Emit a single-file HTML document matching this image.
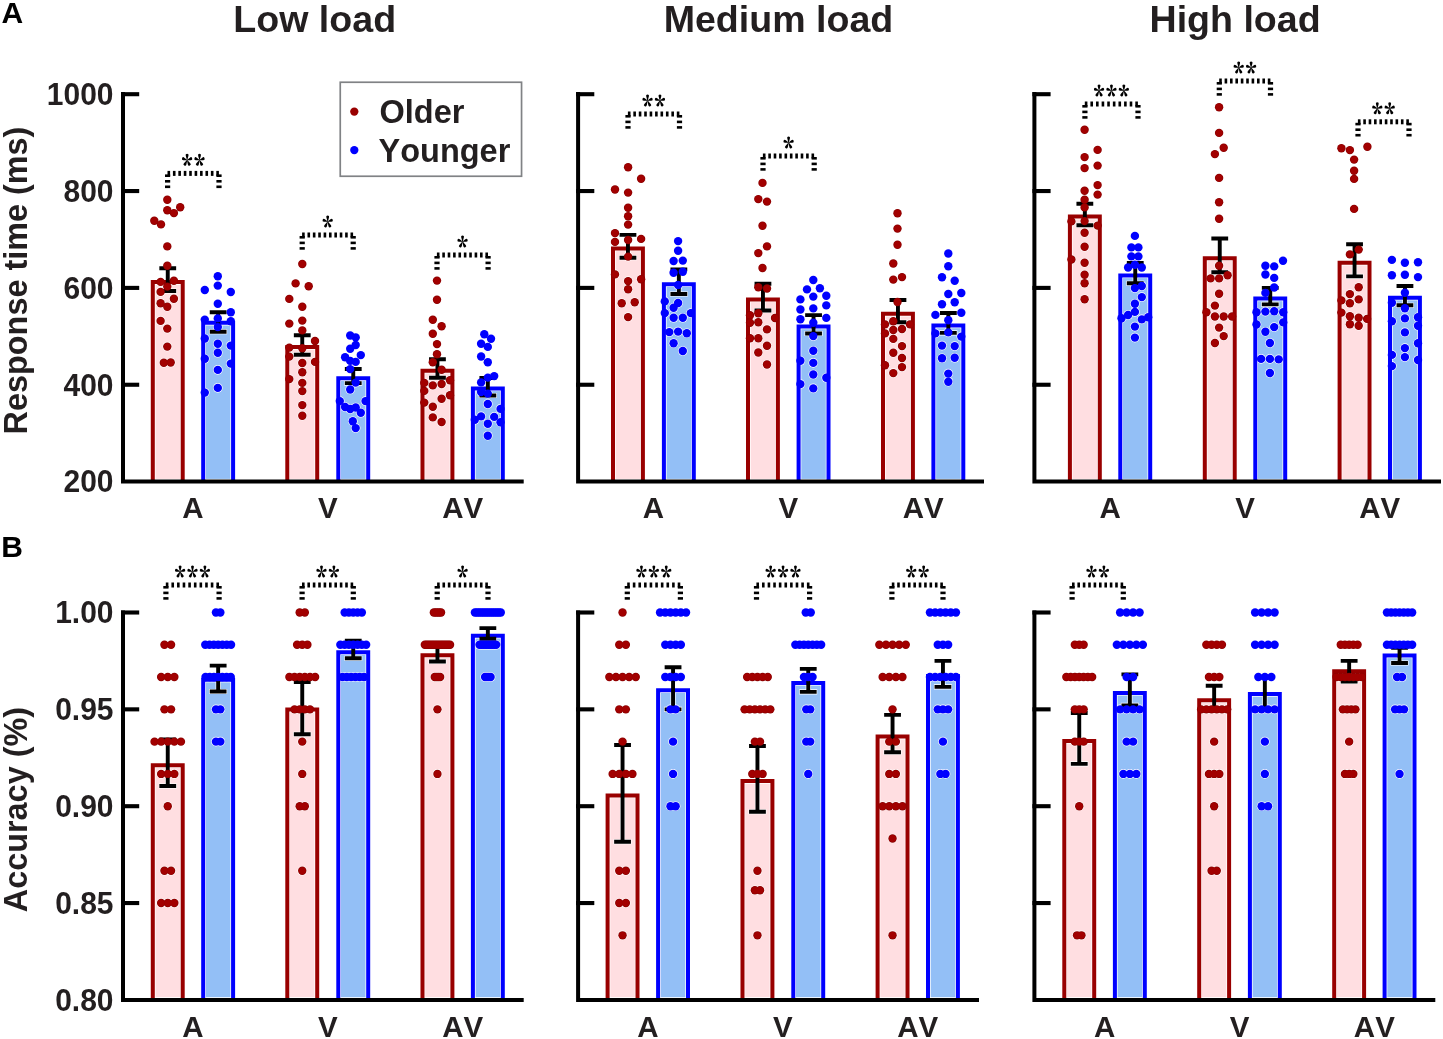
<!DOCTYPE html>
<html><head><meta charset="utf-8"><style>
html,body{margin:0;padding:0;background:#fff;overflow:hidden;}
svg{display:block;will-change:transform;}
text{font-family:"Liberation Sans",sans-serif;font-kerning:none;}
</style></head><body>
<svg width="1443" height="1039" viewBox="0 0 1443 1039">
<rect width="1443" height="1039" fill="#fff"/><rect x="152.80" y="282.10" width="29.90" height="199.50" fill="#FFDEE1" stroke="#fff" stroke-width="5.4"/><rect x="203.20" y="322.80" width="29.90" height="158.80" fill="#93BFF6" stroke="#fff" stroke-width="5.4"/><rect x="287.30" y="347.10" width="29.90" height="134.50" fill="#FFDEE1" stroke="#fff" stroke-width="5.4"/><rect x="338.30" y="378.30" width="29.90" height="103.30" fill="#93BFF6" stroke="#fff" stroke-width="5.4"/><rect x="422.50" y="370.70" width="29.90" height="110.90" fill="#FFDEE1" stroke="#fff" stroke-width="5.4"/><rect x="472.90" y="388.40" width="29.90" height="93.20" fill="#93BFF6" stroke="#fff" stroke-width="5.4"/><g fill="#fff"><circle cx="167.30" cy="199.80" r="4.80"/><circle cx="180.20" cy="207.20" r="4.80"/><circle cx="167.30" cy="210.30" r="4.80"/><circle cx="173.90" cy="213.10" r="4.80"/><circle cx="154.30" cy="220.70" r="4.80"/><circle cx="161.00" cy="224.40" r="4.80"/><circle cx="167.30" cy="246.40" r="4.80"/><circle cx="167.30" cy="265.70" r="4.80"/><circle cx="173.90" cy="280.80" r="4.80"/><circle cx="160.60" cy="281.90" r="4.80"/><circle cx="167.30" cy="286.60" r="4.80"/><circle cx="160.60" cy="291.90" r="4.80"/><circle cx="173.90" cy="298.70" r="4.80"/><circle cx="160.60" cy="303.20" r="4.80"/><circle cx="167.30" cy="306.70" r="4.80"/><circle cx="160.60" cy="320.90" r="4.80"/><circle cx="167.30" cy="328.60" r="4.80"/><circle cx="167.30" cy="346.60" r="4.80"/><circle cx="163.80" cy="362.80" r="4.80"/><circle cx="170.70" cy="362.50" r="4.80"/><circle cx="217.80" cy="276.30" r="4.80"/><circle cx="217.80" cy="285.60" r="4.80"/><circle cx="204.80" cy="290.00" r="4.80"/><circle cx="230.80" cy="292.00" r="4.80"/><circle cx="217.80" cy="303.80" r="4.80"/><circle cx="230.80" cy="312.20" r="4.80"/><circle cx="217.80" cy="318.40" r="4.80"/><circle cx="204.80" cy="319.60" r="4.80"/><circle cx="230.80" cy="321.20" r="4.80"/><circle cx="217.80" cy="327.10" r="4.80"/><circle cx="204.80" cy="338.50" r="4.80"/><circle cx="217.80" cy="343.80" r="4.80"/><circle cx="230.80" cy="345.60" r="4.80"/><circle cx="217.80" cy="352.80" r="4.80"/><circle cx="204.80" cy="358.80" r="4.80"/><circle cx="230.80" cy="363.60" r="4.80"/><circle cx="217.80" cy="369.90" r="4.80"/><circle cx="217.80" cy="387.90" r="4.80"/><circle cx="204.80" cy="392.60" r="4.80"/><circle cx="302.30" cy="264.00" r="4.80"/><circle cx="295.60" cy="283.40" r="4.80"/><circle cx="308.70" cy="286.20" r="4.80"/><circle cx="289.30" cy="298.90" r="4.80"/><circle cx="302.30" cy="306.70" r="4.80"/><circle cx="302.30" cy="320.60" r="4.80"/><circle cx="289.30" cy="323.60" r="4.80"/><circle cx="302.30" cy="330.40" r="4.80"/><circle cx="315.00" cy="341.00" r="4.80"/><circle cx="289.30" cy="347.60" r="4.80"/><circle cx="302.30" cy="348.20" r="4.80"/><circle cx="289.30" cy="356.60" r="4.80"/><circle cx="315.00" cy="361.90" r="4.80"/><circle cx="302.30" cy="363.00" r="4.80"/><circle cx="302.30" cy="372.30" r="4.80"/><circle cx="289.30" cy="379.10" r="4.80"/><circle cx="302.30" cy="382.90" r="4.80"/><circle cx="302.30" cy="391.10" r="4.80"/><circle cx="302.30" cy="405.10" r="4.80"/><circle cx="302.30" cy="415.70" r="4.80"/><circle cx="350.20" cy="335.50" r="4.80"/><circle cx="355.70" cy="337.40" r="4.80"/><circle cx="355.70" cy="345.00" r="4.80"/><circle cx="350.20" cy="348.70" r="4.80"/><circle cx="360.80" cy="355.10" r="4.80"/><circle cx="345.10" cy="357.20" r="4.80"/><circle cx="350.20" cy="360.90" r="4.80"/><circle cx="355.70" cy="361.90" r="4.80"/><circle cx="350.20" cy="369.10" r="4.80"/><circle cx="355.70" cy="382.60" r="4.80"/><circle cx="350.20" cy="389.50" r="4.80"/><circle cx="339.80" cy="401.10" r="4.80"/><circle cx="345.10" cy="407.00" r="4.80"/><circle cx="350.20" cy="409.00" r="4.80"/><circle cx="355.70" cy="407.50" r="4.80"/><circle cx="365.50" cy="401.10" r="4.80"/><circle cx="360.80" cy="412.80" r="4.80"/><circle cx="352.80" cy="421.20" r="4.80"/><circle cx="355.70" cy="428.10" r="4.80"/><circle cx="437.00" cy="280.60" r="4.80"/><circle cx="437.00" cy="299.80" r="4.80"/><circle cx="432.80" cy="319.70" r="4.80"/><circle cx="441.60" cy="326.30" r="4.80"/><circle cx="432.80" cy="333.70" r="4.80"/><circle cx="437.00" cy="344.10" r="4.80"/><circle cx="437.00" cy="354.30" r="4.80"/><circle cx="432.80" cy="362.30" r="4.80"/><circle cx="441.60" cy="369.70" r="4.80"/><circle cx="450.00" cy="380.30" r="4.80"/><circle cx="424.30" cy="382.90" r="4.80"/><circle cx="441.60" cy="384.00" r="4.80"/><circle cx="432.80" cy="385.40" r="4.80"/><circle cx="424.30" cy="390.90" r="4.80"/><circle cx="450.00" cy="395.20" r="4.80"/><circle cx="441.60" cy="398.70" r="4.80"/><circle cx="424.30" cy="402.60" r="4.80"/><circle cx="432.80" cy="406.80" r="4.80"/><circle cx="432.80" cy="417.40" r="4.80"/><circle cx="441.60" cy="422.00" r="4.80"/><circle cx="484.30" cy="334.20" r="4.80"/><circle cx="491.00" cy="338.80" r="4.80"/><circle cx="481.10" cy="343.80" r="4.80"/><circle cx="487.80" cy="346.90" r="4.80"/><circle cx="481.10" cy="356.50" r="4.80"/><circle cx="487.80" cy="362.30" r="4.80"/><circle cx="494.20" cy="376.10" r="4.80"/><circle cx="487.80" cy="377.60" r="4.80"/><circle cx="481.10" cy="382.40" r="4.80"/><circle cx="481.10" cy="392.00" r="4.80"/><circle cx="487.80" cy="393.60" r="4.80"/><circle cx="487.80" cy="404.00" r="4.80"/><circle cx="500.50" cy="408.90" r="4.80"/><circle cx="481.10" cy="416.40" r="4.80"/><circle cx="494.20" cy="416.90" r="4.80"/><circle cx="474.80" cy="419.80" r="4.80"/><circle cx="500.50" cy="422.20" r="4.80"/><circle cx="487.80" cy="423.80" r="4.80"/><circle cx="487.80" cy="435.70" r="4.80"/></g><path d="M158.75,268.20 H176.75 M167.75,268.20 V291.00 M158.75,291.00 H176.75M209.15,312.20 H227.15 M218.15,312.20 V331.80 M209.15,331.80 H227.15M293.25,335.20 H311.25 M302.25,335.20 V354.80 M293.25,354.80 H311.25M344.25,369.00 H362.25 M353.25,369.00 V383.10 M344.25,383.10 H362.25M428.45,359.20 H446.45 M437.45,359.20 V377.80 M428.45,377.80 H446.45M478.85,378.00 H496.85 M487.85,378.00 V395.50 M478.85,395.50 H496.85" stroke="#fff" stroke-width="5.1" fill="none"/><path d="M152.80,481.60 V282.10 H182.70 V481.60" fill="none" stroke="#990000" stroke-width="4"/><path d="M203.20,481.60 V322.80 H233.10 V481.60" fill="none" stroke="#0000FF" stroke-width="4"/><path d="M287.30,481.60 V347.10 H317.20 V481.60" fill="none" stroke="#990000" stroke-width="4"/><path d="M338.30,481.60 V378.30 H368.20 V481.60" fill="none" stroke="#0000FF" stroke-width="4"/><path d="M422.50,481.60 V370.70 H452.40 V481.60" fill="none" stroke="#990000" stroke-width="4"/><path d="M472.90,481.60 V388.40 H502.80 V481.60" fill="none" stroke="#0000FF" stroke-width="4"/><path d="M123.00,92.10 V481.60 H523.70" fill="none" stroke="#000" stroke-width="4"/><path d="M121.00,94.20 H139.20" stroke="#000" stroke-width="4.1"/><path d="M121.00,191.05 H139.20" stroke="#000" stroke-width="4.1"/><path d="M121.00,287.90 H139.20" stroke="#000" stroke-width="4.1"/><path d="M121.00,384.75 H139.20" stroke="#000" stroke-width="4.1"/><path d="M159.35,268.20 H176.15 M167.75,268.20 V291.00 M159.35,291.00 H176.15M209.75,312.20 H226.55 M218.15,312.20 V331.80 M209.75,331.80 H226.55M293.85,335.20 H310.65 M302.25,335.20 V354.80 M293.85,354.80 H310.65M344.85,369.00 H361.65 M353.25,369.00 V383.10 M344.85,383.10 H361.65M429.05,359.20 H445.85 M437.45,359.20 V377.80 M429.05,377.80 H445.85M479.45,378.00 H496.25 M487.85,378.00 V395.50 M479.45,395.50 H496.25" stroke="#000" stroke-width="3.9" fill="none"/><g fill="#8C0000"><circle cx="167.30" cy="199.80" r="4.20"/><circle cx="180.20" cy="207.20" r="4.20"/><circle cx="167.30" cy="210.30" r="4.20"/><circle cx="173.90" cy="213.10" r="4.20"/><circle cx="154.30" cy="220.70" r="4.20"/><circle cx="161.00" cy="224.40" r="4.20"/><circle cx="167.30" cy="246.40" r="4.20"/><circle cx="167.30" cy="265.70" r="4.20"/><circle cx="173.90" cy="280.80" r="4.20"/><circle cx="160.60" cy="281.90" r="4.20"/><circle cx="167.30" cy="286.60" r="4.20"/><circle cx="160.60" cy="291.90" r="4.20"/><circle cx="173.90" cy="298.70" r="4.20"/><circle cx="160.60" cy="303.20" r="4.20"/><circle cx="167.30" cy="306.70" r="4.20"/><circle cx="160.60" cy="320.90" r="4.20"/><circle cx="167.30" cy="328.60" r="4.20"/><circle cx="167.30" cy="346.60" r="4.20"/><circle cx="163.80" cy="362.80" r="4.20"/><circle cx="170.70" cy="362.50" r="4.20"/></g><g fill="#A20000"><circle cx="167.30" cy="199.80" r="3.45"/><circle cx="180.20" cy="207.20" r="3.45"/><circle cx="167.30" cy="210.30" r="3.45"/><circle cx="173.90" cy="213.10" r="3.45"/><circle cx="154.30" cy="220.70" r="3.45"/><circle cx="161.00" cy="224.40" r="3.45"/><circle cx="167.30" cy="246.40" r="3.45"/><circle cx="167.30" cy="265.70" r="3.45"/><circle cx="173.90" cy="280.80" r="3.45"/><circle cx="160.60" cy="281.90" r="3.45"/><circle cx="167.30" cy="286.60" r="3.45"/><circle cx="160.60" cy="291.90" r="3.45"/><circle cx="173.90" cy="298.70" r="3.45"/><circle cx="160.60" cy="303.20" r="3.45"/><circle cx="167.30" cy="306.70" r="3.45"/><circle cx="160.60" cy="320.90" r="3.45"/><circle cx="167.30" cy="328.60" r="3.45"/><circle cx="167.30" cy="346.60" r="3.45"/><circle cx="163.80" cy="362.80" r="3.45"/><circle cx="170.70" cy="362.50" r="3.45"/></g><g fill="#0000FF"><circle cx="217.80" cy="276.30" r="4.2"/><circle cx="217.80" cy="285.60" r="4.2"/><circle cx="204.80" cy="290.00" r="4.2"/><circle cx="230.80" cy="292.00" r="4.2"/><circle cx="217.80" cy="303.80" r="4.2"/><circle cx="230.80" cy="312.20" r="4.2"/><circle cx="217.80" cy="318.40" r="4.2"/><circle cx="204.80" cy="319.60" r="4.2"/><circle cx="230.80" cy="321.20" r="4.2"/><circle cx="217.80" cy="327.10" r="4.2"/><circle cx="204.80" cy="338.50" r="4.2"/><circle cx="217.80" cy="343.80" r="4.2"/><circle cx="230.80" cy="345.60" r="4.2"/><circle cx="217.80" cy="352.80" r="4.2"/><circle cx="204.80" cy="358.80" r="4.2"/><circle cx="230.80" cy="363.60" r="4.2"/><circle cx="217.80" cy="369.90" r="4.2"/><circle cx="217.80" cy="387.90" r="4.2"/><circle cx="204.80" cy="392.60" r="4.2"/></g><g fill="#8C0000"><circle cx="302.30" cy="264.00" r="4.20"/><circle cx="295.60" cy="283.40" r="4.20"/><circle cx="308.70" cy="286.20" r="4.20"/><circle cx="289.30" cy="298.90" r="4.20"/><circle cx="302.30" cy="306.70" r="4.20"/><circle cx="302.30" cy="320.60" r="4.20"/><circle cx="289.30" cy="323.60" r="4.20"/><circle cx="302.30" cy="330.40" r="4.20"/><circle cx="315.00" cy="341.00" r="4.20"/><circle cx="289.30" cy="347.60" r="4.20"/><circle cx="302.30" cy="348.20" r="4.20"/><circle cx="289.30" cy="356.60" r="4.20"/><circle cx="315.00" cy="361.90" r="4.20"/><circle cx="302.30" cy="363.00" r="4.20"/><circle cx="302.30" cy="372.30" r="4.20"/><circle cx="289.30" cy="379.10" r="4.20"/><circle cx="302.30" cy="382.90" r="4.20"/><circle cx="302.30" cy="391.10" r="4.20"/><circle cx="302.30" cy="405.10" r="4.20"/><circle cx="302.30" cy="415.70" r="4.20"/></g><g fill="#A20000"><circle cx="302.30" cy="264.00" r="3.45"/><circle cx="295.60" cy="283.40" r="3.45"/><circle cx="308.70" cy="286.20" r="3.45"/><circle cx="289.30" cy="298.90" r="3.45"/><circle cx="302.30" cy="306.70" r="3.45"/><circle cx="302.30" cy="320.60" r="3.45"/><circle cx="289.30" cy="323.60" r="3.45"/><circle cx="302.30" cy="330.40" r="3.45"/><circle cx="315.00" cy="341.00" r="3.45"/><circle cx="289.30" cy="347.60" r="3.45"/><circle cx="302.30" cy="348.20" r="3.45"/><circle cx="289.30" cy="356.60" r="3.45"/><circle cx="315.00" cy="361.90" r="3.45"/><circle cx="302.30" cy="363.00" r="3.45"/><circle cx="302.30" cy="372.30" r="3.45"/><circle cx="289.30" cy="379.10" r="3.45"/><circle cx="302.30" cy="382.90" r="3.45"/><circle cx="302.30" cy="391.10" r="3.45"/><circle cx="302.30" cy="405.10" r="3.45"/><circle cx="302.30" cy="415.70" r="3.45"/></g><g fill="#0000FF"><circle cx="350.20" cy="335.50" r="4.2"/><circle cx="355.70" cy="337.40" r="4.2"/><circle cx="355.70" cy="345.00" r="4.2"/><circle cx="350.20" cy="348.70" r="4.2"/><circle cx="360.80" cy="355.10" r="4.2"/><circle cx="345.10" cy="357.20" r="4.2"/><circle cx="350.20" cy="360.90" r="4.2"/><circle cx="355.70" cy="361.90" r="4.2"/><circle cx="350.20" cy="369.10" r="4.2"/><circle cx="355.70" cy="382.60" r="4.2"/><circle cx="350.20" cy="389.50" r="4.2"/><circle cx="339.80" cy="401.10" r="4.2"/><circle cx="345.10" cy="407.00" r="4.2"/><circle cx="350.20" cy="409.00" r="4.2"/><circle cx="355.70" cy="407.50" r="4.2"/><circle cx="365.50" cy="401.10" r="4.2"/><circle cx="360.80" cy="412.80" r="4.2"/><circle cx="352.80" cy="421.20" r="4.2"/><circle cx="355.70" cy="428.10" r="4.2"/></g><g fill="#8C0000"><circle cx="437.00" cy="280.60" r="4.20"/><circle cx="437.00" cy="299.80" r="4.20"/><circle cx="432.80" cy="319.70" r="4.20"/><circle cx="441.60" cy="326.30" r="4.20"/><circle cx="432.80" cy="333.70" r="4.20"/><circle cx="437.00" cy="344.10" r="4.20"/><circle cx="437.00" cy="354.30" r="4.20"/><circle cx="432.80" cy="362.30" r="4.20"/><circle cx="441.60" cy="369.70" r="4.20"/><circle cx="450.00" cy="380.30" r="4.20"/><circle cx="424.30" cy="382.90" r="4.20"/><circle cx="441.60" cy="384.00" r="4.20"/><circle cx="432.80" cy="385.40" r="4.20"/><circle cx="424.30" cy="390.90" r="4.20"/><circle cx="450.00" cy="395.20" r="4.20"/><circle cx="441.60" cy="398.70" r="4.20"/><circle cx="424.30" cy="402.60" r="4.20"/><circle cx="432.80" cy="406.80" r="4.20"/><circle cx="432.80" cy="417.40" r="4.20"/><circle cx="441.60" cy="422.00" r="4.20"/></g><g fill="#A20000"><circle cx="437.00" cy="280.60" r="3.45"/><circle cx="437.00" cy="299.80" r="3.45"/><circle cx="432.80" cy="319.70" r="3.45"/><circle cx="441.60" cy="326.30" r="3.45"/><circle cx="432.80" cy="333.70" r="3.45"/><circle cx="437.00" cy="344.10" r="3.45"/><circle cx="437.00" cy="354.30" r="3.45"/><circle cx="432.80" cy="362.30" r="3.45"/><circle cx="441.60" cy="369.70" r="3.45"/><circle cx="450.00" cy="380.30" r="3.45"/><circle cx="424.30" cy="382.90" r="3.45"/><circle cx="441.60" cy="384.00" r="3.45"/><circle cx="432.80" cy="385.40" r="3.45"/><circle cx="424.30" cy="390.90" r="3.45"/><circle cx="450.00" cy="395.20" r="3.45"/><circle cx="441.60" cy="398.70" r="3.45"/><circle cx="424.30" cy="402.60" r="3.45"/><circle cx="432.80" cy="406.80" r="3.45"/><circle cx="432.80" cy="417.40" r="3.45"/><circle cx="441.60" cy="422.00" r="3.45"/></g><g fill="#0000FF"><circle cx="484.30" cy="334.20" r="4.2"/><circle cx="491.00" cy="338.80" r="4.2"/><circle cx="481.10" cy="343.80" r="4.2"/><circle cx="487.80" cy="346.90" r="4.2"/><circle cx="481.10" cy="356.50" r="4.2"/><circle cx="487.80" cy="362.30" r="4.2"/><circle cx="494.20" cy="376.10" r="4.2"/><circle cx="487.80" cy="377.60" r="4.2"/><circle cx="481.10" cy="382.40" r="4.2"/><circle cx="481.10" cy="392.00" r="4.2"/><circle cx="487.80" cy="393.60" r="4.2"/><circle cx="487.80" cy="404.00" r="4.2"/><circle cx="500.50" cy="408.90" r="4.2"/><circle cx="481.10" cy="416.40" r="4.2"/><circle cx="494.20" cy="416.90" r="4.2"/><circle cx="474.80" cy="419.80" r="4.2"/><circle cx="500.50" cy="422.20" r="4.2"/><circle cx="487.80" cy="423.80" r="4.2"/><circle cx="487.80" cy="435.70" r="4.2"/></g><rect x="613.00" y="248.40" width="29.90" height="233.20" fill="#FFDEE1" stroke="#fff" stroke-width="5.4"/><rect x="663.90" y="284.20" width="29.90" height="197.40" fill="#93BFF6" stroke="#fff" stroke-width="5.4"/><rect x="748.00" y="299.40" width="29.90" height="182.20" fill="#FFDEE1" stroke="#fff" stroke-width="5.4"/><rect x="798.60" y="326.50" width="29.90" height="155.10" fill="#93BFF6" stroke="#fff" stroke-width="5.4"/><rect x="883.00" y="313.80" width="29.90" height="167.80" fill="#FFDEE1" stroke="#fff" stroke-width="5.4"/><rect x="933.40" y="325.50" width="29.90" height="156.10" fill="#93BFF6" stroke="#fff" stroke-width="5.4"/><g fill="#fff"><circle cx="628.10" cy="167.20" r="4.80"/><circle cx="641.10" cy="178.80" r="4.80"/><circle cx="615.00" cy="189.50" r="4.80"/><circle cx="628.10" cy="192.60" r="4.80"/><circle cx="628.10" cy="207.70" r="4.80"/><circle cx="628.10" cy="216.20" r="4.80"/><circle cx="628.10" cy="224.60" r="4.80"/><circle cx="615.00" cy="233.10" r="4.80"/><circle cx="615.00" cy="241.90" r="4.80"/><circle cx="628.10" cy="240.00" r="4.80"/><circle cx="641.10" cy="238.90" r="4.80"/><circle cx="628.10" cy="256.60" r="4.80"/><circle cx="615.00" cy="274.40" r="4.80"/><circle cx="641.10" cy="279.20" r="4.80"/><circle cx="628.10" cy="281.10" r="4.80"/><circle cx="628.10" cy="289.20" r="4.80"/><circle cx="621.70" cy="303.30" r="4.80"/><circle cx="634.70" cy="302.30" r="4.80"/><circle cx="628.10" cy="317.10" r="4.80"/><circle cx="678.10" cy="241.10" r="4.80"/><circle cx="678.10" cy="250.80" r="4.80"/><circle cx="673.60" cy="261.00" r="4.80"/><circle cx="682.80" cy="260.60" r="4.80"/><circle cx="673.60" cy="272.80" r="4.80"/><circle cx="682.80" cy="271.80" r="4.80"/><circle cx="678.10" cy="285.00" r="4.80"/><circle cx="664.80" cy="301.40" r="4.80"/><circle cx="678.10" cy="303.00" r="4.80"/><circle cx="673.60" cy="307.80" r="4.80"/><circle cx="664.80" cy="313.10" r="4.80"/><circle cx="690.80" cy="313.10" r="4.80"/><circle cx="673.60" cy="317.80" r="4.80"/><circle cx="682.80" cy="317.80" r="4.80"/><circle cx="669.30" cy="332.10" r="4.80"/><circle cx="678.10" cy="331.60" r="4.80"/><circle cx="686.80" cy="333.20" r="4.80"/><circle cx="673.60" cy="343.20" r="4.80"/><circle cx="682.80" cy="351.00" r="4.80"/><circle cx="762.50" cy="182.90" r="4.80"/><circle cx="758.30" cy="199.10" r="4.80"/><circle cx="767.00" cy="201.60" r="4.80"/><circle cx="762.50" cy="225.80" r="4.80"/><circle cx="767.00" cy="246.40" r="4.80"/><circle cx="758.30" cy="253.10" r="4.80"/><circle cx="762.50" cy="268.00" r="4.80"/><circle cx="758.30" cy="287.20" r="4.80"/><circle cx="767.00" cy="288.50" r="4.80"/><circle cx="758.30" cy="313.20" r="4.80"/><circle cx="750.00" cy="315.30" r="4.80"/><circle cx="775.00" cy="318.00" r="4.80"/><circle cx="758.30" cy="322.20" r="4.80"/><circle cx="750.00" cy="322.70" r="4.80"/><circle cx="767.00" cy="329.40" r="4.80"/><circle cx="750.00" cy="338.30" r="4.80"/><circle cx="758.30" cy="338.30" r="4.80"/><circle cx="767.00" cy="345.70" r="4.80"/><circle cx="758.30" cy="352.50" r="4.80"/><circle cx="767.00" cy="364.50" r="4.80"/><circle cx="813.30" cy="280.00" r="4.80"/><circle cx="807.00" cy="289.40" r="4.80"/><circle cx="819.90" cy="288.30" r="4.80"/><circle cx="826.30" cy="295.70" r="4.80"/><circle cx="813.30" cy="296.60" r="4.80"/><circle cx="800.40" cy="299.40" r="4.80"/><circle cx="826.30" cy="305.40" r="4.80"/><circle cx="813.30" cy="308.40" r="4.80"/><circle cx="800.40" cy="309.50" r="4.80"/><circle cx="826.30" cy="317.90" r="4.80"/><circle cx="800.40" cy="319.20" r="4.80"/><circle cx="813.30" cy="322.70" r="4.80"/><circle cx="813.30" cy="336.10" r="4.80"/><circle cx="813.30" cy="350.80" r="4.80"/><circle cx="800.40" cy="360.80" r="4.80"/><circle cx="813.30" cy="362.90" r="4.80"/><circle cx="813.30" cy="374.50" r="4.80"/><circle cx="826.30" cy="377.80" r="4.80"/><circle cx="800.40" cy="384.10" r="4.80"/><circle cx="813.30" cy="388.40" r="4.80"/><circle cx="897.50" cy="213.20" r="4.80"/><circle cx="897.50" cy="228.60" r="4.80"/><circle cx="897.50" cy="244.70" r="4.80"/><circle cx="893.30" cy="263.50" r="4.80"/><circle cx="902.00" cy="277.10" r="4.80"/><circle cx="893.30" cy="279.60" r="4.80"/><circle cx="897.50" cy="302.00" r="4.80"/><circle cx="893.30" cy="321.20" r="4.80"/><circle cx="885.00" cy="324.40" r="4.80"/><circle cx="910.00" cy="324.40" r="4.80"/><circle cx="902.00" cy="329.00" r="4.80"/><circle cx="893.30" cy="330.00" r="4.80"/><circle cx="885.00" cy="333.40" r="4.80"/><circle cx="893.30" cy="338.90" r="4.80"/><circle cx="902.00" cy="346.10" r="4.80"/><circle cx="893.30" cy="352.70" r="4.80"/><circle cx="902.00" cy="358.00" r="4.80"/><circle cx="885.00" cy="365.20" r="4.80"/><circle cx="902.00" cy="367.10" r="4.80"/><circle cx="893.30" cy="373.10" r="4.80"/><circle cx="948.30" cy="253.50" r="4.80"/><circle cx="948.30" cy="266.20" r="4.80"/><circle cx="942.00" cy="277.30" r="4.80"/><circle cx="954.70" cy="280.70" r="4.80"/><circle cx="961.30" cy="293.00" r="4.80"/><circle cx="948.30" cy="294.00" r="4.80"/><circle cx="954.70" cy="302.20" r="4.80"/><circle cx="942.00" cy="304.30" r="4.80"/><circle cx="961.30" cy="312.80" r="4.80"/><circle cx="935.40" cy="314.90" r="4.80"/><circle cx="948.30" cy="320.20" r="4.80"/><circle cx="948.30" cy="332.40" r="4.80"/><circle cx="935.40" cy="333.40" r="4.80"/><circle cx="961.30" cy="336.60" r="4.80"/><circle cx="942.00" cy="345.60" r="4.80"/><circle cx="954.70" cy="346.10" r="4.80"/><circle cx="954.70" cy="357.80" r="4.80"/><circle cx="942.00" cy="358.30" r="4.80"/><circle cx="948.30" cy="373.60" r="4.80"/><circle cx="948.30" cy="381.70" r="4.80"/></g><path d="M618.95,234.90 H636.95 M627.95,234.90 V257.80 M618.95,257.80 H636.95M669.85,269.40 H687.85 M678.85,269.40 V294.00 M669.85,294.00 H687.85M753.95,283.80 H771.95 M762.95,283.80 V310.50 M753.95,310.50 H771.95M804.55,315.10 H822.55 M813.55,315.10 V333.50 M804.55,333.50 H822.55M888.95,300.00 H906.95 M897.95,300.00 V322.30 M888.95,322.30 H906.95M939.35,313.00 H957.35 M948.35,313.00 V332.90 M939.35,332.90 H957.35" stroke="#fff" stroke-width="5.1" fill="none"/><path d="M613.00,481.60 V248.40 H642.90 V481.60" fill="none" stroke="#990000" stroke-width="4"/><path d="M663.90,481.60 V284.20 H693.80 V481.60" fill="none" stroke="#0000FF" stroke-width="4"/><path d="M748.00,481.60 V299.40 H777.90 V481.60" fill="none" stroke="#990000" stroke-width="4"/><path d="M798.60,481.60 V326.50 H828.50 V481.60" fill="none" stroke="#0000FF" stroke-width="4"/><path d="M883.00,481.60 V313.80 H912.90 V481.60" fill="none" stroke="#990000" stroke-width="4"/><path d="M933.40,481.60 V325.50 H963.30 V481.60" fill="none" stroke="#0000FF" stroke-width="4"/><path d="M578.10,92.10 V481.60 H984.00" fill="none" stroke="#000" stroke-width="4"/><path d="M576.10,94.20 H594.30" stroke="#000" stroke-width="4.1"/><path d="M576.10,191.05 H594.30" stroke="#000" stroke-width="4.1"/><path d="M576.10,287.90 H594.30" stroke="#000" stroke-width="4.1"/><path d="M576.10,384.75 H594.30" stroke="#000" stroke-width="4.1"/><path d="M619.55,234.90 H636.35 M627.95,234.90 V257.80 M619.55,257.80 H636.35M670.45,269.40 H687.25 M678.85,269.40 V294.00 M670.45,294.00 H687.25M754.55,283.80 H771.35 M762.95,283.80 V310.50 M754.55,310.50 H771.35M805.15,315.10 H821.95 M813.55,315.10 V333.50 M805.15,333.50 H821.95M889.55,300.00 H906.35 M897.95,300.00 V322.30 M889.55,322.30 H906.35M939.95,313.00 H956.75 M948.35,313.00 V332.90 M939.95,332.90 H956.75" stroke="#000" stroke-width="3.9" fill="none"/><g fill="#8C0000"><circle cx="628.10" cy="167.20" r="4.20"/><circle cx="641.10" cy="178.80" r="4.20"/><circle cx="615.00" cy="189.50" r="4.20"/><circle cx="628.10" cy="192.60" r="4.20"/><circle cx="628.10" cy="207.70" r="4.20"/><circle cx="628.10" cy="216.20" r="4.20"/><circle cx="628.10" cy="224.60" r="4.20"/><circle cx="615.00" cy="233.10" r="4.20"/><circle cx="615.00" cy="241.90" r="4.20"/><circle cx="628.10" cy="240.00" r="4.20"/><circle cx="641.10" cy="238.90" r="4.20"/><circle cx="628.10" cy="256.60" r="4.20"/><circle cx="615.00" cy="274.40" r="4.20"/><circle cx="641.10" cy="279.20" r="4.20"/><circle cx="628.10" cy="281.10" r="4.20"/><circle cx="628.10" cy="289.20" r="4.20"/><circle cx="621.70" cy="303.30" r="4.20"/><circle cx="634.70" cy="302.30" r="4.20"/><circle cx="628.10" cy="317.10" r="4.20"/></g><g fill="#A20000"><circle cx="628.10" cy="167.20" r="3.45"/><circle cx="641.10" cy="178.80" r="3.45"/><circle cx="615.00" cy="189.50" r="3.45"/><circle cx="628.10" cy="192.60" r="3.45"/><circle cx="628.10" cy="207.70" r="3.45"/><circle cx="628.10" cy="216.20" r="3.45"/><circle cx="628.10" cy="224.60" r="3.45"/><circle cx="615.00" cy="233.10" r="3.45"/><circle cx="615.00" cy="241.90" r="3.45"/><circle cx="628.10" cy="240.00" r="3.45"/><circle cx="641.10" cy="238.90" r="3.45"/><circle cx="628.10" cy="256.60" r="3.45"/><circle cx="615.00" cy="274.40" r="3.45"/><circle cx="641.10" cy="279.20" r="3.45"/><circle cx="628.10" cy="281.10" r="3.45"/><circle cx="628.10" cy="289.20" r="3.45"/><circle cx="621.70" cy="303.30" r="3.45"/><circle cx="634.70" cy="302.30" r="3.45"/><circle cx="628.10" cy="317.10" r="3.45"/></g><g fill="#0000FF"><circle cx="678.10" cy="241.10" r="4.2"/><circle cx="678.10" cy="250.80" r="4.2"/><circle cx="673.60" cy="261.00" r="4.2"/><circle cx="682.80" cy="260.60" r="4.2"/><circle cx="673.60" cy="272.80" r="4.2"/><circle cx="682.80" cy="271.80" r="4.2"/><circle cx="678.10" cy="285.00" r="4.2"/><circle cx="664.80" cy="301.40" r="4.2"/><circle cx="678.10" cy="303.00" r="4.2"/><circle cx="673.60" cy="307.80" r="4.2"/><circle cx="664.80" cy="313.10" r="4.2"/><circle cx="690.80" cy="313.10" r="4.2"/><circle cx="673.60" cy="317.80" r="4.2"/><circle cx="682.80" cy="317.80" r="4.2"/><circle cx="669.30" cy="332.10" r="4.2"/><circle cx="678.10" cy="331.60" r="4.2"/><circle cx="686.80" cy="333.20" r="4.2"/><circle cx="673.60" cy="343.20" r="4.2"/><circle cx="682.80" cy="351.00" r="4.2"/></g><g fill="#8C0000"><circle cx="762.50" cy="182.90" r="4.20"/><circle cx="758.30" cy="199.10" r="4.20"/><circle cx="767.00" cy="201.60" r="4.20"/><circle cx="762.50" cy="225.80" r="4.20"/><circle cx="767.00" cy="246.40" r="4.20"/><circle cx="758.30" cy="253.10" r="4.20"/><circle cx="762.50" cy="268.00" r="4.20"/><circle cx="758.30" cy="287.20" r="4.20"/><circle cx="767.00" cy="288.50" r="4.20"/><circle cx="758.30" cy="313.20" r="4.20"/><circle cx="750.00" cy="315.30" r="4.20"/><circle cx="775.00" cy="318.00" r="4.20"/><circle cx="758.30" cy="322.20" r="4.20"/><circle cx="750.00" cy="322.70" r="4.20"/><circle cx="767.00" cy="329.40" r="4.20"/><circle cx="750.00" cy="338.30" r="4.20"/><circle cx="758.30" cy="338.30" r="4.20"/><circle cx="767.00" cy="345.70" r="4.20"/><circle cx="758.30" cy="352.50" r="4.20"/><circle cx="767.00" cy="364.50" r="4.20"/></g><g fill="#A20000"><circle cx="762.50" cy="182.90" r="3.45"/><circle cx="758.30" cy="199.10" r="3.45"/><circle cx="767.00" cy="201.60" r="3.45"/><circle cx="762.50" cy="225.80" r="3.45"/><circle cx="767.00" cy="246.40" r="3.45"/><circle cx="758.30" cy="253.10" r="3.45"/><circle cx="762.50" cy="268.00" r="3.45"/><circle cx="758.30" cy="287.20" r="3.45"/><circle cx="767.00" cy="288.50" r="3.45"/><circle cx="758.30" cy="313.20" r="3.45"/><circle cx="750.00" cy="315.30" r="3.45"/><circle cx="775.00" cy="318.00" r="3.45"/><circle cx="758.30" cy="322.20" r="3.45"/><circle cx="750.00" cy="322.70" r="3.45"/><circle cx="767.00" cy="329.40" r="3.45"/><circle cx="750.00" cy="338.30" r="3.45"/><circle cx="758.30" cy="338.30" r="3.45"/><circle cx="767.00" cy="345.70" r="3.45"/><circle cx="758.30" cy="352.50" r="3.45"/><circle cx="767.00" cy="364.50" r="3.45"/></g><g fill="#0000FF"><circle cx="813.30" cy="280.00" r="4.2"/><circle cx="807.00" cy="289.40" r="4.2"/><circle cx="819.90" cy="288.30" r="4.2"/><circle cx="826.30" cy="295.70" r="4.2"/><circle cx="813.30" cy="296.60" r="4.2"/><circle cx="800.40" cy="299.40" r="4.2"/><circle cx="826.30" cy="305.40" r="4.2"/><circle cx="813.30" cy="308.40" r="4.2"/><circle cx="800.40" cy="309.50" r="4.2"/><circle cx="826.30" cy="317.90" r="4.2"/><circle cx="800.40" cy="319.20" r="4.2"/><circle cx="813.30" cy="322.70" r="4.2"/><circle cx="813.30" cy="336.10" r="4.2"/><circle cx="813.30" cy="350.80" r="4.2"/><circle cx="800.40" cy="360.80" r="4.2"/><circle cx="813.30" cy="362.90" r="4.2"/><circle cx="813.30" cy="374.50" r="4.2"/><circle cx="826.30" cy="377.80" r="4.2"/><circle cx="800.40" cy="384.10" r="4.2"/><circle cx="813.30" cy="388.40" r="4.2"/></g><g fill="#8C0000"><circle cx="897.50" cy="213.20" r="4.20"/><circle cx="897.50" cy="228.60" r="4.20"/><circle cx="897.50" cy="244.70" r="4.20"/><circle cx="893.30" cy="263.50" r="4.20"/><circle cx="902.00" cy="277.10" r="4.20"/><circle cx="893.30" cy="279.60" r="4.20"/><circle cx="897.50" cy="302.00" r="4.20"/><circle cx="893.30" cy="321.20" r="4.20"/><circle cx="885.00" cy="324.40" r="4.20"/><circle cx="910.00" cy="324.40" r="4.20"/><circle cx="902.00" cy="329.00" r="4.20"/><circle cx="893.30" cy="330.00" r="4.20"/><circle cx="885.00" cy="333.40" r="4.20"/><circle cx="893.30" cy="338.90" r="4.20"/><circle cx="902.00" cy="346.10" r="4.20"/><circle cx="893.30" cy="352.70" r="4.20"/><circle cx="902.00" cy="358.00" r="4.20"/><circle cx="885.00" cy="365.20" r="4.20"/><circle cx="902.00" cy="367.10" r="4.20"/><circle cx="893.30" cy="373.10" r="4.20"/></g><g fill="#A20000"><circle cx="897.50" cy="213.20" r="3.45"/><circle cx="897.50" cy="228.60" r="3.45"/><circle cx="897.50" cy="244.70" r="3.45"/><circle cx="893.30" cy="263.50" r="3.45"/><circle cx="902.00" cy="277.10" r="3.45"/><circle cx="893.30" cy="279.60" r="3.45"/><circle cx="897.50" cy="302.00" r="3.45"/><circle cx="893.30" cy="321.20" r="3.45"/><circle cx="885.00" cy="324.40" r="3.45"/><circle cx="910.00" cy="324.40" r="3.45"/><circle cx="902.00" cy="329.00" r="3.45"/><circle cx="893.30" cy="330.00" r="3.45"/><circle cx="885.00" cy="333.40" r="3.45"/><circle cx="893.30" cy="338.90" r="3.45"/><circle cx="902.00" cy="346.10" r="3.45"/><circle cx="893.30" cy="352.70" r="3.45"/><circle cx="902.00" cy="358.00" r="3.45"/><circle cx="885.00" cy="365.20" r="3.45"/><circle cx="902.00" cy="367.10" r="3.45"/><circle cx="893.30" cy="373.10" r="3.45"/></g><g fill="#0000FF"><circle cx="948.30" cy="253.50" r="4.2"/><circle cx="948.30" cy="266.20" r="4.2"/><circle cx="942.00" cy="277.30" r="4.2"/><circle cx="954.70" cy="280.70" r="4.2"/><circle cx="961.30" cy="293.00" r="4.2"/><circle cx="948.30" cy="294.00" r="4.2"/><circle cx="954.70" cy="302.20" r="4.2"/><circle cx="942.00" cy="304.30" r="4.2"/><circle cx="961.30" cy="312.80" r="4.2"/><circle cx="935.40" cy="314.90" r="4.2"/><circle cx="948.30" cy="320.20" r="4.2"/><circle cx="948.30" cy="332.40" r="4.2"/><circle cx="935.40" cy="333.40" r="4.2"/><circle cx="961.30" cy="336.60" r="4.2"/><circle cx="942.00" cy="345.60" r="4.2"/><circle cx="954.70" cy="346.10" r="4.2"/><circle cx="954.70" cy="357.80" r="4.2"/><circle cx="942.00" cy="358.30" r="4.2"/><circle cx="948.30" cy="373.60" r="4.2"/><circle cx="948.30" cy="381.70" r="4.2"/></g><rect x="1069.90" y="216.60" width="29.90" height="265.00" fill="#FFDEE1" stroke="#fff" stroke-width="5.4"/><rect x="1120.30" y="275.40" width="29.90" height="206.20" fill="#93BFF6" stroke="#fff" stroke-width="5.4"/><rect x="1204.80" y="258.30" width="29.90" height="223.30" fill="#FFDEE1" stroke="#fff" stroke-width="5.4"/><rect x="1255.30" y="298.50" width="29.90" height="183.10" fill="#93BFF6" stroke="#fff" stroke-width="5.4"/><rect x="1339.60" y="262.80" width="29.90" height="218.80" fill="#FFDEE1" stroke="#fff" stroke-width="5.4"/><rect x="1390.00" y="297.70" width="29.90" height="183.90" fill="#93BFF6" stroke="#fff" stroke-width="5.4"/><g fill="#fff"><circle cx="1084.60" cy="129.80" r="4.80"/><circle cx="1097.60" cy="149.90" r="4.80"/><circle cx="1084.60" cy="157.10" r="4.80"/><circle cx="1097.60" cy="165.60" r="4.80"/><circle cx="1084.60" cy="168.10" r="4.80"/><circle cx="1097.60" cy="185.10" r="4.80"/><circle cx="1084.60" cy="190.70" r="4.80"/><circle cx="1097.60" cy="194.60" r="4.80"/><circle cx="1084.60" cy="199.70" r="4.80"/><circle cx="1084.60" cy="207.40" r="4.80"/><circle cx="1084.60" cy="221.10" r="4.80"/><circle cx="1071.40" cy="221.40" r="4.80"/><circle cx="1097.60" cy="225.60" r="4.80"/><circle cx="1084.60" cy="232.70" r="4.80"/><circle cx="1084.60" cy="246.80" r="4.80"/><circle cx="1071.40" cy="259.50" r="4.80"/><circle cx="1084.60" cy="262.70" r="4.80"/><circle cx="1084.60" cy="274.70" r="4.80"/><circle cx="1084.60" cy="283.30" r="4.80"/><circle cx="1084.60" cy="299.30" r="4.80"/><circle cx="1134.90" cy="235.90" r="4.80"/><circle cx="1131.40" cy="247.40" r="4.80"/><circle cx="1138.40" cy="247.40" r="4.80"/><circle cx="1131.40" cy="256.40" r="4.80"/><circle cx="1138.40" cy="256.40" r="4.80"/><circle cx="1134.90" cy="264.80" r="4.80"/><circle cx="1128.10" cy="267.50" r="4.80"/><circle cx="1141.80" cy="267.50" r="4.80"/><circle cx="1141.80" cy="286.00" r="4.80"/><circle cx="1134.90" cy="288.10" r="4.80"/><circle cx="1141.80" cy="297.10" r="4.80"/><circle cx="1134.90" cy="303.80" r="4.80"/><circle cx="1134.90" cy="311.90" r="4.80"/><circle cx="1128.10" cy="315.00" r="4.80"/><circle cx="1148.20" cy="317.20" r="4.80"/><circle cx="1121.50" cy="318.30" r="4.80"/><circle cx="1141.80" cy="319.40" r="4.80"/><circle cx="1134.90" cy="326.60" r="4.80"/><circle cx="1134.90" cy="337.60" r="4.80"/><circle cx="1219.10" cy="107.20" r="4.80"/><circle cx="1219.10" cy="132.90" r="4.80"/><circle cx="1223.70" cy="147.70" r="4.80"/><circle cx="1214.90" cy="154.10" r="4.80"/><circle cx="1219.10" cy="177.90" r="4.80"/><circle cx="1219.10" cy="202.20" r="4.80"/><circle cx="1219.10" cy="218.80" r="4.80"/><circle cx="1219.10" cy="265.70" r="4.80"/><circle cx="1227.60" cy="275.20" r="4.80"/><circle cx="1210.60" cy="278.40" r="4.80"/><circle cx="1219.10" cy="278.40" r="4.80"/><circle cx="1219.10" cy="293.80" r="4.80"/><circle cx="1214.90" cy="305.60" r="4.80"/><circle cx="1206.40" cy="312.30" r="4.80"/><circle cx="1214.90" cy="316.50" r="4.80"/><circle cx="1223.70" cy="316.50" r="4.80"/><circle cx="1232.10" cy="316.50" r="4.80"/><circle cx="1219.10" cy="327.60" r="4.80"/><circle cx="1223.70" cy="336.10" r="4.80"/><circle cx="1214.90" cy="343.00" r="4.80"/><circle cx="1283.00" cy="260.70" r="4.80"/><circle cx="1265.40" cy="265.70" r="4.80"/><circle cx="1274.20" cy="266.40" r="4.80"/><circle cx="1265.40" cy="274.50" r="4.80"/><circle cx="1274.20" cy="277.90" r="4.80"/><circle cx="1274.20" cy="287.50" r="4.80"/><circle cx="1265.40" cy="292.90" r="4.80"/><circle cx="1265.40" cy="311.60" r="4.80"/><circle cx="1274.20" cy="311.20" r="4.80"/><circle cx="1256.50" cy="312.30" r="4.80"/><circle cx="1283.20" cy="312.30" r="4.80"/><circle cx="1283.20" cy="322.40" r="4.80"/><circle cx="1256.50" cy="324.50" r="4.80"/><circle cx="1274.20" cy="327.10" r="4.80"/><circle cx="1265.40" cy="331.70" r="4.80"/><circle cx="1269.90" cy="343.00" r="4.80"/><circle cx="1261.10" cy="358.90" r="4.80"/><circle cx="1269.90" cy="358.90" r="4.80"/><circle cx="1278.70" cy="359.40" r="4.80"/><circle cx="1269.90" cy="373.00" r="4.80"/><circle cx="1367.40" cy="146.70" r="4.80"/><circle cx="1341.40" cy="148.20" r="4.80"/><circle cx="1349.90" cy="150.10" r="4.80"/><circle cx="1354.10" cy="159.60" r="4.80"/><circle cx="1354.10" cy="170.80" r="4.80"/><circle cx="1354.10" cy="178.90" r="4.80"/><circle cx="1354.10" cy="208.90" r="4.80"/><circle cx="1358.70" cy="249.60" r="4.80"/><circle cx="1349.90" cy="254.40" r="4.80"/><circle cx="1358.70" cy="287.20" r="4.80"/><circle cx="1349.90" cy="294.10" r="4.80"/><circle cx="1358.70" cy="299.40" r="4.80"/><circle cx="1341.40" cy="300.40" r="4.80"/><circle cx="1349.90" cy="303.30" r="4.80"/><circle cx="1341.40" cy="312.60" r="4.80"/><circle cx="1349.90" cy="316.30" r="4.80"/><circle cx="1358.70" cy="317.70" r="4.80"/><circle cx="1367.10" cy="318.90" r="4.80"/><circle cx="1349.90" cy="324.20" r="4.80"/><circle cx="1358.70" cy="325.80" r="4.80"/><circle cx="1391.90" cy="259.90" r="4.80"/><circle cx="1418.00" cy="262.30" r="4.80"/><circle cx="1404.90" cy="262.80" r="4.80"/><circle cx="1404.90" cy="274.70" r="4.80"/><circle cx="1391.90" cy="275.30" r="4.80"/><circle cx="1418.00" cy="277.10" r="4.80"/><circle cx="1404.90" cy="292.70" r="4.80"/><circle cx="1391.90" cy="302.80" r="4.80"/><circle cx="1404.90" cy="308.30" r="4.80"/><circle cx="1418.00" cy="317.30" r="4.80"/><circle cx="1404.90" cy="318.40" r="4.80"/><circle cx="1391.90" cy="321.30" r="4.80"/><circle cx="1418.00" cy="325.80" r="4.80"/><circle cx="1404.90" cy="332.40" r="4.80"/><circle cx="1418.00" cy="343.30" r="4.80"/><circle cx="1404.90" cy="348.10" r="4.80"/><circle cx="1391.90" cy="354.90" r="4.80"/><circle cx="1404.90" cy="357.10" r="4.80"/><circle cx="1418.00" cy="360.00" r="4.80"/><circle cx="1391.90" cy="366.10" r="4.80"/></g><path d="M1075.85,203.70 H1093.85 M1084.85,203.70 V225.30 M1075.85,225.30 H1093.85M1126.25,263.00 H1144.25 M1135.25,263.00 V283.20 M1126.25,283.20 H1144.25M1210.75,238.50 H1228.75 M1219.75,238.50 V272.30 M1210.75,272.30 H1228.75M1261.25,287.90 H1279.25 M1270.25,287.90 V304.40 M1261.25,304.40 H1279.25M1345.55,244.30 H1363.55 M1354.55,244.30 V276.40 M1345.55,276.40 H1363.55M1395.95,286.00 H1413.95 M1404.95,286.00 V305.20 M1395.95,305.20 H1413.95" stroke="#fff" stroke-width="5.1" fill="none"/><path d="M1069.90,481.60 V216.60 H1099.80 V481.60" fill="none" stroke="#990000" stroke-width="4"/><path d="M1120.30,481.60 V275.40 H1150.20 V481.60" fill="none" stroke="#0000FF" stroke-width="4"/><path d="M1204.80,481.60 V258.30 H1234.70 V481.60" fill="none" stroke="#990000" stroke-width="4"/><path d="M1255.30,481.60 V298.50 H1285.20 V481.60" fill="none" stroke="#0000FF" stroke-width="4"/><path d="M1339.60,481.60 V262.80 H1369.50 V481.60" fill="none" stroke="#990000" stroke-width="4"/><path d="M1390.00,481.60 V297.70 H1419.90 V481.60" fill="none" stroke="#0000FF" stroke-width="4"/><path d="M1034.40,92.10 V481.60 H1441.00" fill="none" stroke="#000" stroke-width="4"/><path d="M1032.40,94.20 H1050.60" stroke="#000" stroke-width="4.1"/><path d="M1032.40,191.05 H1050.60" stroke="#000" stroke-width="4.1"/><path d="M1032.40,287.90 H1050.60" stroke="#000" stroke-width="4.1"/><path d="M1032.40,384.75 H1050.60" stroke="#000" stroke-width="4.1"/><path d="M1076.45,203.70 H1093.25 M1084.85,203.70 V225.30 M1076.45,225.30 H1093.25M1126.85,263.00 H1143.65 M1135.25,263.00 V283.20 M1126.85,283.20 H1143.65M1211.35,238.50 H1228.15 M1219.75,238.50 V272.30 M1211.35,272.30 H1228.15M1261.85,287.90 H1278.65 M1270.25,287.90 V304.40 M1261.85,304.40 H1278.65M1346.15,244.30 H1362.95 M1354.55,244.30 V276.40 M1346.15,276.40 H1362.95M1396.55,286.00 H1413.35 M1404.95,286.00 V305.20 M1396.55,305.20 H1413.35" stroke="#000" stroke-width="3.9" fill="none"/><g fill="#8C0000"><circle cx="1084.60" cy="129.80" r="4.20"/><circle cx="1097.60" cy="149.90" r="4.20"/><circle cx="1084.60" cy="157.10" r="4.20"/><circle cx="1097.60" cy="165.60" r="4.20"/><circle cx="1084.60" cy="168.10" r="4.20"/><circle cx="1097.60" cy="185.10" r="4.20"/><circle cx="1084.60" cy="190.70" r="4.20"/><circle cx="1097.60" cy="194.60" r="4.20"/><circle cx="1084.60" cy="199.70" r="4.20"/><circle cx="1084.60" cy="207.40" r="4.20"/><circle cx="1084.60" cy="221.10" r="4.20"/><circle cx="1071.40" cy="221.40" r="4.20"/><circle cx="1097.60" cy="225.60" r="4.20"/><circle cx="1084.60" cy="232.70" r="4.20"/><circle cx="1084.60" cy="246.80" r="4.20"/><circle cx="1071.40" cy="259.50" r="4.20"/><circle cx="1084.60" cy="262.70" r="4.20"/><circle cx="1084.60" cy="274.70" r="4.20"/><circle cx="1084.60" cy="283.30" r="4.20"/><circle cx="1084.60" cy="299.30" r="4.20"/></g><g fill="#A20000"><circle cx="1084.60" cy="129.80" r="3.45"/><circle cx="1097.60" cy="149.90" r="3.45"/><circle cx="1084.60" cy="157.10" r="3.45"/><circle cx="1097.60" cy="165.60" r="3.45"/><circle cx="1084.60" cy="168.10" r="3.45"/><circle cx="1097.60" cy="185.10" r="3.45"/><circle cx="1084.60" cy="190.70" r="3.45"/><circle cx="1097.60" cy="194.60" r="3.45"/><circle cx="1084.60" cy="199.70" r="3.45"/><circle cx="1084.60" cy="207.40" r="3.45"/><circle cx="1084.60" cy="221.10" r="3.45"/><circle cx="1071.40" cy="221.40" r="3.45"/><circle cx="1097.60" cy="225.60" r="3.45"/><circle cx="1084.60" cy="232.70" r="3.45"/><circle cx="1084.60" cy="246.80" r="3.45"/><circle cx="1071.40" cy="259.50" r="3.45"/><circle cx="1084.60" cy="262.70" r="3.45"/><circle cx="1084.60" cy="274.70" r="3.45"/><circle cx="1084.60" cy="283.30" r="3.45"/><circle cx="1084.60" cy="299.30" r="3.45"/></g><g fill="#0000FF"><circle cx="1134.90" cy="235.90" r="4.2"/><circle cx="1131.40" cy="247.40" r="4.2"/><circle cx="1138.40" cy="247.40" r="4.2"/><circle cx="1131.40" cy="256.40" r="4.2"/><circle cx="1138.40" cy="256.40" r="4.2"/><circle cx="1134.90" cy="264.80" r="4.2"/><circle cx="1128.10" cy="267.50" r="4.2"/><circle cx="1141.80" cy="267.50" r="4.2"/><circle cx="1141.80" cy="286.00" r="4.2"/><circle cx="1134.90" cy="288.10" r="4.2"/><circle cx="1141.80" cy="297.10" r="4.2"/><circle cx="1134.90" cy="303.80" r="4.2"/><circle cx="1134.90" cy="311.90" r="4.2"/><circle cx="1128.10" cy="315.00" r="4.2"/><circle cx="1148.20" cy="317.20" r="4.2"/><circle cx="1121.50" cy="318.30" r="4.2"/><circle cx="1141.80" cy="319.40" r="4.2"/><circle cx="1134.90" cy="326.60" r="4.2"/><circle cx="1134.90" cy="337.60" r="4.2"/></g><g fill="#8C0000"><circle cx="1219.10" cy="107.20" r="4.20"/><circle cx="1219.10" cy="132.90" r="4.20"/><circle cx="1223.70" cy="147.70" r="4.20"/><circle cx="1214.90" cy="154.10" r="4.20"/><circle cx="1219.10" cy="177.90" r="4.20"/><circle cx="1219.10" cy="202.20" r="4.20"/><circle cx="1219.10" cy="218.80" r="4.20"/><circle cx="1219.10" cy="265.70" r="4.20"/><circle cx="1227.60" cy="275.20" r="4.20"/><circle cx="1210.60" cy="278.40" r="4.20"/><circle cx="1219.10" cy="278.40" r="4.20"/><circle cx="1219.10" cy="293.80" r="4.20"/><circle cx="1214.90" cy="305.60" r="4.20"/><circle cx="1206.40" cy="312.30" r="4.20"/><circle cx="1214.90" cy="316.50" r="4.20"/><circle cx="1223.70" cy="316.50" r="4.20"/><circle cx="1232.10" cy="316.50" r="4.20"/><circle cx="1219.10" cy="327.60" r="4.20"/><circle cx="1223.70" cy="336.10" r="4.20"/><circle cx="1214.90" cy="343.00" r="4.20"/></g><g fill="#A20000"><circle cx="1219.10" cy="107.20" r="3.45"/><circle cx="1219.10" cy="132.90" r="3.45"/><circle cx="1223.70" cy="147.70" r="3.45"/><circle cx="1214.90" cy="154.10" r="3.45"/><circle cx="1219.10" cy="177.90" r="3.45"/><circle cx="1219.10" cy="202.20" r="3.45"/><circle cx="1219.10" cy="218.80" r="3.45"/><circle cx="1219.10" cy="265.70" r="3.45"/><circle cx="1227.60" cy="275.20" r="3.45"/><circle cx="1210.60" cy="278.40" r="3.45"/><circle cx="1219.10" cy="278.40" r="3.45"/><circle cx="1219.10" cy="293.80" r="3.45"/><circle cx="1214.90" cy="305.60" r="3.45"/><circle cx="1206.40" cy="312.30" r="3.45"/><circle cx="1214.90" cy="316.50" r="3.45"/><circle cx="1223.70" cy="316.50" r="3.45"/><circle cx="1232.10" cy="316.50" r="3.45"/><circle cx="1219.10" cy="327.60" r="3.45"/><circle cx="1223.70" cy="336.10" r="3.45"/><circle cx="1214.90" cy="343.00" r="3.45"/></g><g fill="#0000FF"><circle cx="1283.00" cy="260.70" r="4.2"/><circle cx="1265.40" cy="265.70" r="4.2"/><circle cx="1274.20" cy="266.40" r="4.2"/><circle cx="1265.40" cy="274.50" r="4.2"/><circle cx="1274.20" cy="277.90" r="4.2"/><circle cx="1274.20" cy="287.50" r="4.2"/><circle cx="1265.40" cy="292.90" r="4.2"/><circle cx="1265.40" cy="311.60" r="4.2"/><circle cx="1274.20" cy="311.20" r="4.2"/><circle cx="1256.50" cy="312.30" r="4.2"/><circle cx="1283.20" cy="312.30" r="4.2"/><circle cx="1283.20" cy="322.40" r="4.2"/><circle cx="1256.50" cy="324.50" r="4.2"/><circle cx="1274.20" cy="327.10" r="4.2"/><circle cx="1265.40" cy="331.70" r="4.2"/><circle cx="1269.90" cy="343.00" r="4.2"/><circle cx="1261.10" cy="358.90" r="4.2"/><circle cx="1269.90" cy="358.90" r="4.2"/><circle cx="1278.70" cy="359.40" r="4.2"/><circle cx="1269.90" cy="373.00" r="4.2"/></g><g fill="#8C0000"><circle cx="1367.40" cy="146.70" r="4.20"/><circle cx="1341.40" cy="148.20" r="4.20"/><circle cx="1349.90" cy="150.10" r="4.20"/><circle cx="1354.10" cy="159.60" r="4.20"/><circle cx="1354.10" cy="170.80" r="4.20"/><circle cx="1354.10" cy="178.90" r="4.20"/><circle cx="1354.10" cy="208.90" r="4.20"/><circle cx="1358.70" cy="249.60" r="4.20"/><circle cx="1349.90" cy="254.40" r="4.20"/><circle cx="1358.70" cy="287.20" r="4.20"/><circle cx="1349.90" cy="294.10" r="4.20"/><circle cx="1358.70" cy="299.40" r="4.20"/><circle cx="1341.40" cy="300.40" r="4.20"/><circle cx="1349.90" cy="303.30" r="4.20"/><circle cx="1341.40" cy="312.60" r="4.20"/><circle cx="1349.90" cy="316.30" r="4.20"/><circle cx="1358.70" cy="317.70" r="4.20"/><circle cx="1367.10" cy="318.90" r="4.20"/><circle cx="1349.90" cy="324.20" r="4.20"/><circle cx="1358.70" cy="325.80" r="4.20"/></g><g fill="#A20000"><circle cx="1367.40" cy="146.70" r="3.45"/><circle cx="1341.40" cy="148.20" r="3.45"/><circle cx="1349.90" cy="150.10" r="3.45"/><circle cx="1354.10" cy="159.60" r="3.45"/><circle cx="1354.10" cy="170.80" r="3.45"/><circle cx="1354.10" cy="178.90" r="3.45"/><circle cx="1354.10" cy="208.90" r="3.45"/><circle cx="1358.70" cy="249.60" r="3.45"/><circle cx="1349.90" cy="254.40" r="3.45"/><circle cx="1358.70" cy="287.20" r="3.45"/><circle cx="1349.90" cy="294.10" r="3.45"/><circle cx="1358.70" cy="299.40" r="3.45"/><circle cx="1341.40" cy="300.40" r="3.45"/><circle cx="1349.90" cy="303.30" r="3.45"/><circle cx="1341.40" cy="312.60" r="3.45"/><circle cx="1349.90" cy="316.30" r="3.45"/><circle cx="1358.70" cy="317.70" r="3.45"/><circle cx="1367.10" cy="318.90" r="3.45"/><circle cx="1349.90" cy="324.20" r="3.45"/><circle cx="1358.70" cy="325.80" r="3.45"/></g><g fill="#0000FF"><circle cx="1391.90" cy="259.90" r="4.2"/><circle cx="1418.00" cy="262.30" r="4.2"/><circle cx="1404.90" cy="262.80" r="4.2"/><circle cx="1404.90" cy="274.70" r="4.2"/><circle cx="1391.90" cy="275.30" r="4.2"/><circle cx="1418.00" cy="277.10" r="4.2"/><circle cx="1404.90" cy="292.70" r="4.2"/><circle cx="1391.90" cy="302.80" r="4.2"/><circle cx="1404.90" cy="308.30" r="4.2"/><circle cx="1418.00" cy="317.30" r="4.2"/><circle cx="1404.90" cy="318.40" r="4.2"/><circle cx="1391.90" cy="321.30" r="4.2"/><circle cx="1418.00" cy="325.80" r="4.2"/><circle cx="1404.90" cy="332.40" r="4.2"/><circle cx="1418.00" cy="343.30" r="4.2"/><circle cx="1404.90" cy="348.10" r="4.2"/><circle cx="1391.90" cy="354.90" r="4.2"/><circle cx="1404.90" cy="357.10" r="4.2"/><circle cx="1418.00" cy="360.00" r="4.2"/><circle cx="1391.90" cy="366.10" r="4.2"/></g><rect x="152.80" y="765.20" width="29.90" height="234.70" fill="#FFDEE1" stroke="#fff" stroke-width="5.4"/><rect x="203.20" y="679.70" width="29.90" height="320.20" fill="#93BFF6" stroke="#fff" stroke-width="5.4"/><rect x="287.30" y="709.60" width="29.90" height="290.30" fill="#FFDEE1" stroke="#fff" stroke-width="5.4"/><rect x="338.30" y="652.20" width="29.90" height="347.70" fill="#93BFF6" stroke="#fff" stroke-width="5.4"/><rect x="422.50" y="655.20" width="29.90" height="344.70" fill="#FFDEE1" stroke="#fff" stroke-width="5.4"/><rect x="472.90" y="635.80" width="29.90" height="364.10" fill="#93BFF6" stroke="#fff" stroke-width="5.4"/><g fill="#fff"><circle cx="164.45" cy="644.78" r="4.80"/><circle cx="171.05" cy="644.78" r="4.80"/><circle cx="161.15" cy="677.07" r="4.80"/><circle cx="167.75" cy="677.07" r="4.80"/><circle cx="174.35" cy="677.07" r="4.80"/><circle cx="164.45" cy="709.35" r="4.80"/><circle cx="171.05" cy="709.35" r="4.80"/><circle cx="154.55" cy="741.63" r="4.80"/><circle cx="161.15" cy="741.63" r="4.80"/><circle cx="167.75" cy="741.63" r="4.80"/><circle cx="174.35" cy="741.63" r="4.80"/><circle cx="180.95" cy="741.63" r="4.80"/><circle cx="161.15" cy="773.92" r="4.80"/><circle cx="167.75" cy="773.92" r="4.80"/><circle cx="174.35" cy="773.92" r="4.80"/><circle cx="167.75" cy="806.20" r="4.80"/><circle cx="164.45" cy="870.77" r="4.80"/><circle cx="171.05" cy="870.77" r="4.80"/><circle cx="161.15" cy="903.05" r="4.80"/><circle cx="167.75" cy="903.05" r="4.80"/><circle cx="174.35" cy="903.05" r="4.80"/><circle cx="215.95" cy="612.50" r="4.80"/><circle cx="220.35" cy="612.50" r="4.80"/><circle cx="205.25" cy="644.78" r="4.80"/><circle cx="209.55" cy="644.78" r="4.80"/><circle cx="213.85" cy="644.78" r="4.80"/><circle cx="218.15" cy="644.78" r="4.80"/><circle cx="222.45" cy="644.78" r="4.80"/><circle cx="226.75" cy="644.78" r="4.80"/><circle cx="231.05" cy="644.78" r="4.80"/><circle cx="205.55" cy="677.07" r="4.80"/><circle cx="209.75" cy="677.07" r="4.80"/><circle cx="213.95" cy="677.07" r="4.80"/><circle cx="218.15" cy="677.07" r="4.80"/><circle cx="222.35" cy="677.07" r="4.80"/><circle cx="226.55" cy="677.07" r="4.80"/><circle cx="230.75" cy="677.07" r="4.80"/><circle cx="215.95" cy="709.35" r="4.80"/><circle cx="220.35" cy="709.35" r="4.80"/><circle cx="215.95" cy="741.63" r="4.80"/><circle cx="220.35" cy="741.63" r="4.80"/><circle cx="299.68" cy="612.50" r="4.80"/><circle cx="304.82" cy="612.50" r="4.80"/><circle cx="297.10" cy="644.78" r="4.80"/><circle cx="302.25" cy="644.78" r="4.80"/><circle cx="307.40" cy="644.78" r="4.80"/><circle cx="289.38" cy="677.07" r="4.80"/><circle cx="294.52" cy="677.07" r="4.80"/><circle cx="299.68" cy="677.07" r="4.80"/><circle cx="304.82" cy="677.07" r="4.80"/><circle cx="309.98" cy="677.07" r="4.80"/><circle cx="315.12" cy="677.07" r="4.80"/><circle cx="294.52" cy="709.35" r="4.80"/><circle cx="299.68" cy="709.35" r="4.80"/><circle cx="304.82" cy="709.35" r="4.80"/><circle cx="309.98" cy="709.35" r="4.80"/><circle cx="302.25" cy="741.63" r="4.80"/><circle cx="302.25" cy="773.92" r="4.80"/><circle cx="299.68" cy="806.20" r="4.80"/><circle cx="304.82" cy="806.20" r="4.80"/><circle cx="302.25" cy="870.77" r="4.80"/><circle cx="344.65" cy="612.50" r="4.80"/><circle cx="348.95" cy="612.50" r="4.80"/><circle cx="353.25" cy="612.50" r="4.80"/><circle cx="357.55" cy="612.50" r="4.80"/><circle cx="361.85" cy="612.50" r="4.80"/><circle cx="340.35" cy="644.78" r="4.80"/><circle cx="344.65" cy="644.78" r="4.80"/><circle cx="348.95" cy="644.78" r="4.80"/><circle cx="353.25" cy="644.78" r="4.80"/><circle cx="357.55" cy="644.78" r="4.80"/><circle cx="361.85" cy="644.78" r="4.80"/><circle cx="366.15" cy="644.78" r="4.80"/><circle cx="342.50" cy="677.07" r="4.80"/><circle cx="346.80" cy="677.07" r="4.80"/><circle cx="351.10" cy="677.07" r="4.80"/><circle cx="355.40" cy="677.07" r="4.80"/><circle cx="359.70" cy="677.07" r="4.80"/><circle cx="364.00" cy="677.07" r="4.80"/><circle cx="433.85" cy="612.50" r="4.80"/><circle cx="435.65" cy="612.50" r="4.80"/><circle cx="437.45" cy="612.50" r="4.80"/><circle cx="439.25" cy="612.50" r="4.80"/><circle cx="441.05" cy="612.50" r="4.80"/><circle cx="424.85" cy="644.78" r="4.80"/><circle cx="426.65" cy="644.78" r="4.80"/><circle cx="428.45" cy="644.78" r="4.80"/><circle cx="430.25" cy="644.78" r="4.80"/><circle cx="432.05" cy="644.78" r="4.80"/><circle cx="433.85" cy="644.78" r="4.80"/><circle cx="435.65" cy="644.78" r="4.80"/><circle cx="437.45" cy="644.78" r="4.80"/><circle cx="439.25" cy="644.78" r="4.80"/><circle cx="441.05" cy="644.78" r="4.80"/><circle cx="442.85" cy="644.78" r="4.80"/><circle cx="444.65" cy="644.78" r="4.80"/><circle cx="446.45" cy="644.78" r="4.80"/><circle cx="448.25" cy="644.78" r="4.80"/><circle cx="450.05" cy="644.78" r="4.80"/><circle cx="434.75" cy="677.07" r="4.80"/><circle cx="436.55" cy="677.07" r="4.80"/><circle cx="438.35" cy="677.07" r="4.80"/><circle cx="440.15" cy="677.07" r="4.80"/><circle cx="437.45" cy="709.35" r="4.80"/><circle cx="437.45" cy="773.92" r="4.80"/><circle cx="474.90" cy="612.50" r="4.80"/><circle cx="476.75" cy="612.50" r="4.80"/><circle cx="478.60" cy="612.50" r="4.80"/><circle cx="480.45" cy="612.50" r="4.80"/><circle cx="482.30" cy="612.50" r="4.80"/><circle cx="484.15" cy="612.50" r="4.80"/><circle cx="486.00" cy="612.50" r="4.80"/><circle cx="487.85" cy="612.50" r="4.80"/><circle cx="489.70" cy="612.50" r="4.80"/><circle cx="491.55" cy="612.50" r="4.80"/><circle cx="493.40" cy="612.50" r="4.80"/><circle cx="495.25" cy="612.50" r="4.80"/><circle cx="497.10" cy="612.50" r="4.80"/><circle cx="498.95" cy="612.50" r="4.80"/><circle cx="500.80" cy="612.50" r="4.80"/><circle cx="479.52" cy="644.78" r="4.80"/><circle cx="481.37" cy="644.78" r="4.80"/><circle cx="483.22" cy="644.78" r="4.80"/><circle cx="485.07" cy="644.78" r="4.80"/><circle cx="486.92" cy="644.78" r="4.80"/><circle cx="488.77" cy="644.78" r="4.80"/><circle cx="490.62" cy="644.78" r="4.80"/><circle cx="492.47" cy="644.78" r="4.80"/><circle cx="494.32" cy="644.78" r="4.80"/><circle cx="496.17" cy="644.78" r="4.80"/><circle cx="485.07" cy="677.07" r="4.80"/><circle cx="486.92" cy="677.07" r="4.80"/><circle cx="488.77" cy="677.07" r="4.80"/><circle cx="490.62" cy="677.07" r="4.80"/></g><path d="M158.75,739.50 H176.75 M167.75,739.50 V786.00 M158.75,786.00 H176.75M209.15,665.60 H227.15 M218.15,665.60 V691.50 M209.15,691.50 H227.15M293.25,682.00 H311.25 M302.25,682.00 V734.20 M293.25,734.20 H311.25M344.25,640.70 H362.25 M353.25,640.70 V658.30 M344.25,658.30 H362.25M428.45,646.00 H446.45 M437.45,646.00 V661.50 M428.45,661.50 H446.45M478.85,628.10 H496.85 M487.85,628.10 V638.80 M478.85,638.80 H496.85" stroke="#fff" stroke-width="5.1" fill="none"/><path d="M152.80,999.90 V765.20 H182.70 V999.90" fill="none" stroke="#990000" stroke-width="4"/><path d="M203.20,999.90 V679.70 H233.10 V999.90" fill="none" stroke="#0000FF" stroke-width="4"/><path d="M287.30,999.90 V709.60 H317.20 V999.90" fill="none" stroke="#990000" stroke-width="4"/><path d="M338.30,999.90 V652.20 H368.20 V999.90" fill="none" stroke="#0000FF" stroke-width="4"/><path d="M422.50,999.90 V655.20 H452.40 V999.90" fill="none" stroke="#990000" stroke-width="4"/><path d="M472.90,999.90 V635.80 H502.80 V999.90" fill="none" stroke="#0000FF" stroke-width="4"/><path d="M123.00,610.40 V999.90 H523.70" fill="none" stroke="#000" stroke-width="4"/><path d="M121.00,612.50 H139.20" stroke="#000" stroke-width="4.1"/><path d="M121.00,709.35 H139.20" stroke="#000" stroke-width="4.1"/><path d="M121.00,806.20 H139.20" stroke="#000" stroke-width="4.1"/><path d="M121.00,903.05 H139.20" stroke="#000" stroke-width="4.1"/><path d="M159.35,739.50 H176.15 M167.75,739.50 V786.00 M159.35,786.00 H176.15M209.75,665.60 H226.55 M218.15,665.60 V691.50 M209.75,691.50 H226.55M293.85,682.00 H310.65 M302.25,682.00 V734.20 M293.85,734.20 H310.65M344.85,640.70 H361.65 M353.25,640.70 V658.30 M344.85,658.30 H361.65M429.05,646.00 H445.85 M437.45,646.00 V661.50 M429.05,661.50 H445.85M479.45,628.10 H496.25 M487.85,628.10 V638.80 M479.45,638.80 H496.25" stroke="#000" stroke-width="3.9" fill="none"/><g fill="#8C0000"><circle cx="164.45" cy="644.78" r="4.20"/><circle cx="171.05" cy="644.78" r="4.20"/><circle cx="161.15" cy="677.07" r="4.20"/><circle cx="167.75" cy="677.07" r="4.20"/><circle cx="174.35" cy="677.07" r="4.20"/><circle cx="164.45" cy="709.35" r="4.20"/><circle cx="171.05" cy="709.35" r="4.20"/><circle cx="154.55" cy="741.63" r="4.20"/><circle cx="161.15" cy="741.63" r="4.20"/><circle cx="167.75" cy="741.63" r="4.20"/><circle cx="174.35" cy="741.63" r="4.20"/><circle cx="180.95" cy="741.63" r="4.20"/><circle cx="161.15" cy="773.92" r="4.20"/><circle cx="167.75" cy="773.92" r="4.20"/><circle cx="174.35" cy="773.92" r="4.20"/><circle cx="167.75" cy="806.20" r="4.20"/><circle cx="164.45" cy="870.77" r="4.20"/><circle cx="171.05" cy="870.77" r="4.20"/><circle cx="161.15" cy="903.05" r="4.20"/><circle cx="167.75" cy="903.05" r="4.20"/><circle cx="174.35" cy="903.05" r="4.20"/></g><g fill="#A20000"><circle cx="164.45" cy="644.78" r="3.45"/><circle cx="171.05" cy="644.78" r="3.45"/><circle cx="161.15" cy="677.07" r="3.45"/><circle cx="167.75" cy="677.07" r="3.45"/><circle cx="174.35" cy="677.07" r="3.45"/><circle cx="164.45" cy="709.35" r="3.45"/><circle cx="171.05" cy="709.35" r="3.45"/><circle cx="154.55" cy="741.63" r="3.45"/><circle cx="161.15" cy="741.63" r="3.45"/><circle cx="167.75" cy="741.63" r="3.45"/><circle cx="174.35" cy="741.63" r="3.45"/><circle cx="180.95" cy="741.63" r="3.45"/><circle cx="161.15" cy="773.92" r="3.45"/><circle cx="167.75" cy="773.92" r="3.45"/><circle cx="174.35" cy="773.92" r="3.45"/><circle cx="167.75" cy="806.20" r="3.45"/><circle cx="164.45" cy="870.77" r="3.45"/><circle cx="171.05" cy="870.77" r="3.45"/><circle cx="161.15" cy="903.05" r="3.45"/><circle cx="167.75" cy="903.05" r="3.45"/><circle cx="174.35" cy="903.05" r="3.45"/></g><g fill="#0000FF"><circle cx="215.95" cy="612.50" r="4.2"/><circle cx="220.35" cy="612.50" r="4.2"/><circle cx="205.25" cy="644.78" r="4.2"/><circle cx="209.55" cy="644.78" r="4.2"/><circle cx="213.85" cy="644.78" r="4.2"/><circle cx="218.15" cy="644.78" r="4.2"/><circle cx="222.45" cy="644.78" r="4.2"/><circle cx="226.75" cy="644.78" r="4.2"/><circle cx="231.05" cy="644.78" r="4.2"/><circle cx="205.55" cy="677.07" r="4.2"/><circle cx="209.75" cy="677.07" r="4.2"/><circle cx="213.95" cy="677.07" r="4.2"/><circle cx="218.15" cy="677.07" r="4.2"/><circle cx="222.35" cy="677.07" r="4.2"/><circle cx="226.55" cy="677.07" r="4.2"/><circle cx="230.75" cy="677.07" r="4.2"/><circle cx="215.95" cy="709.35" r="4.2"/><circle cx="220.35" cy="709.35" r="4.2"/><circle cx="215.95" cy="741.63" r="4.2"/><circle cx="220.35" cy="741.63" r="4.2"/></g><g fill="#8C0000"><circle cx="299.68" cy="612.50" r="4.20"/><circle cx="304.82" cy="612.50" r="4.20"/><circle cx="297.10" cy="644.78" r="4.20"/><circle cx="302.25" cy="644.78" r="4.20"/><circle cx="307.40" cy="644.78" r="4.20"/><circle cx="289.38" cy="677.07" r="4.20"/><circle cx="294.52" cy="677.07" r="4.20"/><circle cx="299.68" cy="677.07" r="4.20"/><circle cx="304.82" cy="677.07" r="4.20"/><circle cx="309.98" cy="677.07" r="4.20"/><circle cx="315.12" cy="677.07" r="4.20"/><circle cx="294.52" cy="709.35" r="4.20"/><circle cx="299.68" cy="709.35" r="4.20"/><circle cx="304.82" cy="709.35" r="4.20"/><circle cx="309.98" cy="709.35" r="4.20"/><circle cx="302.25" cy="741.63" r="4.20"/><circle cx="302.25" cy="773.92" r="4.20"/><circle cx="299.68" cy="806.20" r="4.20"/><circle cx="304.82" cy="806.20" r="4.20"/><circle cx="302.25" cy="870.77" r="4.20"/></g><g fill="#A20000"><circle cx="299.68" cy="612.50" r="3.45"/><circle cx="304.82" cy="612.50" r="3.45"/><circle cx="297.10" cy="644.78" r="3.45"/><circle cx="302.25" cy="644.78" r="3.45"/><circle cx="307.40" cy="644.78" r="3.45"/><circle cx="289.38" cy="677.07" r="3.45"/><circle cx="294.52" cy="677.07" r="3.45"/><circle cx="299.68" cy="677.07" r="3.45"/><circle cx="304.82" cy="677.07" r="3.45"/><circle cx="309.98" cy="677.07" r="3.45"/><circle cx="315.12" cy="677.07" r="3.45"/><circle cx="294.52" cy="709.35" r="3.45"/><circle cx="299.68" cy="709.35" r="3.45"/><circle cx="304.82" cy="709.35" r="3.45"/><circle cx="309.98" cy="709.35" r="3.45"/><circle cx="302.25" cy="741.63" r="3.45"/><circle cx="302.25" cy="773.92" r="3.45"/><circle cx="299.68" cy="806.20" r="3.45"/><circle cx="304.82" cy="806.20" r="3.45"/><circle cx="302.25" cy="870.77" r="3.45"/></g><g fill="#0000FF"><circle cx="344.65" cy="612.50" r="4.2"/><circle cx="348.95" cy="612.50" r="4.2"/><circle cx="353.25" cy="612.50" r="4.2"/><circle cx="357.55" cy="612.50" r="4.2"/><circle cx="361.85" cy="612.50" r="4.2"/><circle cx="340.35" cy="644.78" r="4.2"/><circle cx="344.65" cy="644.78" r="4.2"/><circle cx="348.95" cy="644.78" r="4.2"/><circle cx="353.25" cy="644.78" r="4.2"/><circle cx="357.55" cy="644.78" r="4.2"/><circle cx="361.85" cy="644.78" r="4.2"/><circle cx="366.15" cy="644.78" r="4.2"/><circle cx="342.50" cy="677.07" r="4.2"/><circle cx="346.80" cy="677.07" r="4.2"/><circle cx="351.10" cy="677.07" r="4.2"/><circle cx="355.40" cy="677.07" r="4.2"/><circle cx="359.70" cy="677.07" r="4.2"/><circle cx="364.00" cy="677.07" r="4.2"/></g><g fill="#8C0000"><circle cx="433.85" cy="612.50" r="4.20"/><circle cx="435.65" cy="612.50" r="4.20"/><circle cx="437.45" cy="612.50" r="4.20"/><circle cx="439.25" cy="612.50" r="4.20"/><circle cx="441.05" cy="612.50" r="4.20"/><circle cx="424.85" cy="644.78" r="4.20"/><circle cx="426.65" cy="644.78" r="4.20"/><circle cx="428.45" cy="644.78" r="4.20"/><circle cx="430.25" cy="644.78" r="4.20"/><circle cx="432.05" cy="644.78" r="4.20"/><circle cx="433.85" cy="644.78" r="4.20"/><circle cx="435.65" cy="644.78" r="4.20"/><circle cx="437.45" cy="644.78" r="4.20"/><circle cx="439.25" cy="644.78" r="4.20"/><circle cx="441.05" cy="644.78" r="4.20"/><circle cx="442.85" cy="644.78" r="4.20"/><circle cx="444.65" cy="644.78" r="4.20"/><circle cx="446.45" cy="644.78" r="4.20"/><circle cx="448.25" cy="644.78" r="4.20"/><circle cx="450.05" cy="644.78" r="4.20"/><circle cx="434.75" cy="677.07" r="4.20"/><circle cx="436.55" cy="677.07" r="4.20"/><circle cx="438.35" cy="677.07" r="4.20"/><circle cx="440.15" cy="677.07" r="4.20"/><circle cx="437.45" cy="709.35" r="4.20"/><circle cx="437.45" cy="773.92" r="4.20"/></g><g fill="#A20000"><circle cx="433.85" cy="612.50" r="3.45"/><circle cx="435.65" cy="612.50" r="3.45"/><circle cx="437.45" cy="612.50" r="3.45"/><circle cx="439.25" cy="612.50" r="3.45"/><circle cx="441.05" cy="612.50" r="3.45"/><circle cx="424.85" cy="644.78" r="3.45"/><circle cx="426.65" cy="644.78" r="3.45"/><circle cx="428.45" cy="644.78" r="3.45"/><circle cx="430.25" cy="644.78" r="3.45"/><circle cx="432.05" cy="644.78" r="3.45"/><circle cx="433.85" cy="644.78" r="3.45"/><circle cx="435.65" cy="644.78" r="3.45"/><circle cx="437.45" cy="644.78" r="3.45"/><circle cx="439.25" cy="644.78" r="3.45"/><circle cx="441.05" cy="644.78" r="3.45"/><circle cx="442.85" cy="644.78" r="3.45"/><circle cx="444.65" cy="644.78" r="3.45"/><circle cx="446.45" cy="644.78" r="3.45"/><circle cx="448.25" cy="644.78" r="3.45"/><circle cx="450.05" cy="644.78" r="3.45"/><circle cx="434.75" cy="677.07" r="3.45"/><circle cx="436.55" cy="677.07" r="3.45"/><circle cx="438.35" cy="677.07" r="3.45"/><circle cx="440.15" cy="677.07" r="3.45"/><circle cx="437.45" cy="709.35" r="3.45"/><circle cx="437.45" cy="773.92" r="3.45"/></g><g fill="#0000FF"><circle cx="474.90" cy="612.50" r="4.2"/><circle cx="476.75" cy="612.50" r="4.2"/><circle cx="478.60" cy="612.50" r="4.2"/><circle cx="480.45" cy="612.50" r="4.2"/><circle cx="482.30" cy="612.50" r="4.2"/><circle cx="484.15" cy="612.50" r="4.2"/><circle cx="486.00" cy="612.50" r="4.2"/><circle cx="487.85" cy="612.50" r="4.2"/><circle cx="489.70" cy="612.50" r="4.2"/><circle cx="491.55" cy="612.50" r="4.2"/><circle cx="493.40" cy="612.50" r="4.2"/><circle cx="495.25" cy="612.50" r="4.2"/><circle cx="497.10" cy="612.50" r="4.2"/><circle cx="498.95" cy="612.50" r="4.2"/><circle cx="500.80" cy="612.50" r="4.2"/><circle cx="479.52" cy="644.78" r="4.2"/><circle cx="481.37" cy="644.78" r="4.2"/><circle cx="483.22" cy="644.78" r="4.2"/><circle cx="485.07" cy="644.78" r="4.2"/><circle cx="486.92" cy="644.78" r="4.2"/><circle cx="488.77" cy="644.78" r="4.2"/><circle cx="490.62" cy="644.78" r="4.2"/><circle cx="492.47" cy="644.78" r="4.2"/><circle cx="494.32" cy="644.78" r="4.2"/><circle cx="496.17" cy="644.78" r="4.2"/><circle cx="485.07" cy="677.07" r="4.2"/><circle cx="486.92" cy="677.07" r="4.2"/><circle cx="488.77" cy="677.07" r="4.2"/><circle cx="490.62" cy="677.07" r="4.2"/></g><rect x="607.60" y="795.40" width="29.90" height="204.50" fill="#FFDEE1" stroke="#fff" stroke-width="5.4"/><rect x="658.10" y="690.30" width="29.90" height="309.60" fill="#93BFF6" stroke="#fff" stroke-width="5.4"/><rect x="742.50" y="781.10" width="29.90" height="218.80" fill="#FFDEE1" stroke="#fff" stroke-width="5.4"/><rect x="793.30" y="682.90" width="29.90" height="317.00" fill="#93BFF6" stroke="#fff" stroke-width="5.4"/><rect x="877.60" y="736.60" width="29.90" height="263.30" fill="#FFDEE1" stroke="#fff" stroke-width="5.4"/><rect x="928.00" y="676.00" width="29.90" height="323.90" fill="#93BFF6" stroke="#fff" stroke-width="5.4"/><g fill="#fff"><circle cx="622.55" cy="612.50" r="4.80"/><circle cx="619.25" cy="644.78" r="4.80"/><circle cx="625.85" cy="644.78" r="4.80"/><circle cx="609.35" cy="677.07" r="4.80"/><circle cx="615.95" cy="677.07" r="4.80"/><circle cx="622.55" cy="677.07" r="4.80"/><circle cx="629.15" cy="677.07" r="4.80"/><circle cx="635.75" cy="677.07" r="4.80"/><circle cx="619.25" cy="709.35" r="4.80"/><circle cx="625.85" cy="709.35" r="4.80"/><circle cx="622.55" cy="741.63" r="4.80"/><circle cx="612.65" cy="773.92" r="4.80"/><circle cx="619.25" cy="773.92" r="4.80"/><circle cx="625.85" cy="773.92" r="4.80"/><circle cx="632.45" cy="773.92" r="4.80"/><circle cx="619.25" cy="870.77" r="4.80"/><circle cx="625.85" cy="870.77" r="4.80"/><circle cx="619.25" cy="903.05" r="4.80"/><circle cx="625.85" cy="903.05" r="4.80"/><circle cx="622.55" cy="935.33" r="4.80"/><circle cx="660.05" cy="612.50" r="4.80"/><circle cx="665.25" cy="612.50" r="4.80"/><circle cx="670.45" cy="612.50" r="4.80"/><circle cx="675.65" cy="612.50" r="4.80"/><circle cx="680.85" cy="612.50" r="4.80"/><circle cx="686.05" cy="612.50" r="4.80"/><circle cx="665.25" cy="644.78" r="4.80"/><circle cx="670.45" cy="644.78" r="4.80"/><circle cx="675.65" cy="644.78" r="4.80"/><circle cx="680.85" cy="644.78" r="4.80"/><circle cx="665.25" cy="677.07" r="4.80"/><circle cx="670.45" cy="677.07" r="4.80"/><circle cx="675.65" cy="677.07" r="4.80"/><circle cx="680.85" cy="677.07" r="4.80"/><circle cx="670.45" cy="709.35" r="4.80"/><circle cx="675.65" cy="709.35" r="4.80"/><circle cx="673.05" cy="741.63" r="4.80"/><circle cx="673.05" cy="773.92" r="4.80"/><circle cx="670.45" cy="806.20" r="4.80"/><circle cx="675.65" cy="806.20" r="4.80"/><circle cx="747.15" cy="677.07" r="4.80"/><circle cx="752.30" cy="677.07" r="4.80"/><circle cx="757.45" cy="677.07" r="4.80"/><circle cx="762.60" cy="677.07" r="4.80"/><circle cx="767.75" cy="677.07" r="4.80"/><circle cx="744.58" cy="709.35" r="4.80"/><circle cx="749.73" cy="709.35" r="4.80"/><circle cx="754.88" cy="709.35" r="4.80"/><circle cx="760.03" cy="709.35" r="4.80"/><circle cx="765.18" cy="709.35" r="4.80"/><circle cx="770.33" cy="709.35" r="4.80"/><circle cx="754.88" cy="741.63" r="4.80"/><circle cx="760.03" cy="741.63" r="4.80"/><circle cx="752.30" cy="773.92" r="4.80"/><circle cx="757.45" cy="773.92" r="4.80"/><circle cx="762.60" cy="773.92" r="4.80"/><circle cx="757.45" cy="870.77" r="4.80"/><circle cx="754.88" cy="890.30" r="4.80"/><circle cx="760.03" cy="890.30" r="4.80"/><circle cx="757.45" cy="935.33" r="4.80"/><circle cx="805.75" cy="612.50" r="4.80"/><circle cx="810.75" cy="612.50" r="4.80"/><circle cx="795.35" cy="644.78" r="4.80"/><circle cx="799.65" cy="644.78" r="4.80"/><circle cx="803.95" cy="644.78" r="4.80"/><circle cx="808.25" cy="644.78" r="4.80"/><circle cx="812.55" cy="644.78" r="4.80"/><circle cx="816.85" cy="644.78" r="4.80"/><circle cx="821.15" cy="644.78" r="4.80"/><circle cx="803.95" cy="677.07" r="4.80"/><circle cx="808.25" cy="677.07" r="4.80"/><circle cx="812.55" cy="677.07" r="4.80"/><circle cx="806.25" cy="709.35" r="4.80"/><circle cx="810.25" cy="709.35" r="4.80"/><circle cx="806.25" cy="741.63" r="4.80"/><circle cx="810.25" cy="741.63" r="4.80"/><circle cx="808.25" cy="773.92" r="4.80"/><circle cx="879.35" cy="644.78" r="4.80"/><circle cx="885.95" cy="644.78" r="4.80"/><circle cx="892.55" cy="644.78" r="4.80"/><circle cx="899.15" cy="644.78" r="4.80"/><circle cx="905.75" cy="644.78" r="4.80"/><circle cx="882.65" cy="677.07" r="4.80"/><circle cx="889.25" cy="677.07" r="4.80"/><circle cx="895.85" cy="677.07" r="4.80"/><circle cx="902.45" cy="677.07" r="4.80"/><circle cx="892.55" cy="709.35" r="4.80"/><circle cx="889.25" cy="741.63" r="4.80"/><circle cx="895.85" cy="741.63" r="4.80"/><circle cx="889.25" cy="773.92" r="4.80"/><circle cx="895.85" cy="773.92" r="4.80"/><circle cx="882.65" cy="806.20" r="4.80"/><circle cx="889.25" cy="806.20" r="4.80"/><circle cx="895.85" cy="806.20" r="4.80"/><circle cx="902.45" cy="806.20" r="4.80"/><circle cx="892.55" cy="838.48" r="4.80"/><circle cx="892.55" cy="935.33" r="4.80"/><circle cx="929.95" cy="612.50" r="4.80"/><circle cx="935.15" cy="612.50" r="4.80"/><circle cx="940.35" cy="612.50" r="4.80"/><circle cx="945.55" cy="612.50" r="4.80"/><circle cx="950.75" cy="612.50" r="4.80"/><circle cx="955.95" cy="612.50" r="4.80"/><circle cx="937.75" cy="644.78" r="4.80"/><circle cx="942.95" cy="644.78" r="4.80"/><circle cx="948.15" cy="644.78" r="4.80"/><circle cx="929.95" cy="677.07" r="4.80"/><circle cx="935.15" cy="677.07" r="4.80"/><circle cx="940.35" cy="677.07" r="4.80"/><circle cx="945.55" cy="677.07" r="4.80"/><circle cx="950.75" cy="677.07" r="4.80"/><circle cx="955.95" cy="677.07" r="4.80"/><circle cx="937.75" cy="709.35" r="4.80"/><circle cx="942.95" cy="709.35" r="4.80"/><circle cx="948.15" cy="709.35" r="4.80"/><circle cx="942.95" cy="741.63" r="4.80"/><circle cx="940.35" cy="773.92" r="4.80"/><circle cx="945.55" cy="773.92" r="4.80"/></g><path d="M613.55,745.00 H631.55 M622.55,745.00 V841.80 M613.55,841.80 H631.55M664.05,667.30 H682.05 M673.05,667.30 V709.40 M664.05,709.40 H682.05M748.45,746.00 H766.45 M757.45,746.00 V811.80 M748.45,811.80 H766.45M799.25,668.90 H817.25 M808.25,668.90 V691.90 M799.25,691.90 H817.25M883.55,714.90 H901.55 M892.55,714.90 V752.20 M883.55,752.20 H901.55M933.95,660.90 H951.95 M942.95,660.90 V686.90 M933.95,686.90 H951.95" stroke="#fff" stroke-width="5.1" fill="none"/><path d="M607.60,999.90 V795.40 H637.50 V999.90" fill="none" stroke="#990000" stroke-width="4"/><path d="M658.10,999.90 V690.30 H688.00 V999.90" fill="none" stroke="#0000FF" stroke-width="4"/><path d="M742.50,999.90 V781.10 H772.40 V999.90" fill="none" stroke="#990000" stroke-width="4"/><path d="M793.30,999.90 V682.90 H823.20 V999.90" fill="none" stroke="#0000FF" stroke-width="4"/><path d="M877.60,999.90 V736.60 H907.50 V999.90" fill="none" stroke="#990000" stroke-width="4"/><path d="M928.00,999.90 V676.00 H957.90 V999.90" fill="none" stroke="#0000FF" stroke-width="4"/><path d="M578.10,610.40 V999.90 H979.00" fill="none" stroke="#000" stroke-width="4"/><path d="M576.10,612.50 H594.30" stroke="#000" stroke-width="4.1"/><path d="M576.10,709.35 H594.30" stroke="#000" stroke-width="4.1"/><path d="M576.10,806.20 H594.30" stroke="#000" stroke-width="4.1"/><path d="M576.10,903.05 H594.30" stroke="#000" stroke-width="4.1"/><path d="M614.15,745.00 H630.95 M622.55,745.00 V841.80 M614.15,841.80 H630.95M664.65,667.30 H681.45 M673.05,667.30 V709.40 M664.65,709.40 H681.45M749.05,746.00 H765.85 M757.45,746.00 V811.80 M749.05,811.80 H765.85M799.85,668.90 H816.65 M808.25,668.90 V691.90 M799.85,691.90 H816.65M884.15,714.90 H900.95 M892.55,714.90 V752.20 M884.15,752.20 H900.95M934.55,660.90 H951.35 M942.95,660.90 V686.90 M934.55,686.90 H951.35" stroke="#000" stroke-width="3.9" fill="none"/><g fill="#8C0000"><circle cx="622.55" cy="612.50" r="4.20"/><circle cx="619.25" cy="644.78" r="4.20"/><circle cx="625.85" cy="644.78" r="4.20"/><circle cx="609.35" cy="677.07" r="4.20"/><circle cx="615.95" cy="677.07" r="4.20"/><circle cx="622.55" cy="677.07" r="4.20"/><circle cx="629.15" cy="677.07" r="4.20"/><circle cx="635.75" cy="677.07" r="4.20"/><circle cx="619.25" cy="709.35" r="4.20"/><circle cx="625.85" cy="709.35" r="4.20"/><circle cx="622.55" cy="741.63" r="4.20"/><circle cx="612.65" cy="773.92" r="4.20"/><circle cx="619.25" cy="773.92" r="4.20"/><circle cx="625.85" cy="773.92" r="4.20"/><circle cx="632.45" cy="773.92" r="4.20"/><circle cx="619.25" cy="870.77" r="4.20"/><circle cx="625.85" cy="870.77" r="4.20"/><circle cx="619.25" cy="903.05" r="4.20"/><circle cx="625.85" cy="903.05" r="4.20"/><circle cx="622.55" cy="935.33" r="4.20"/></g><g fill="#A20000"><circle cx="622.55" cy="612.50" r="3.45"/><circle cx="619.25" cy="644.78" r="3.45"/><circle cx="625.85" cy="644.78" r="3.45"/><circle cx="609.35" cy="677.07" r="3.45"/><circle cx="615.95" cy="677.07" r="3.45"/><circle cx="622.55" cy="677.07" r="3.45"/><circle cx="629.15" cy="677.07" r="3.45"/><circle cx="635.75" cy="677.07" r="3.45"/><circle cx="619.25" cy="709.35" r="3.45"/><circle cx="625.85" cy="709.35" r="3.45"/><circle cx="622.55" cy="741.63" r="3.45"/><circle cx="612.65" cy="773.92" r="3.45"/><circle cx="619.25" cy="773.92" r="3.45"/><circle cx="625.85" cy="773.92" r="3.45"/><circle cx="632.45" cy="773.92" r="3.45"/><circle cx="619.25" cy="870.77" r="3.45"/><circle cx="625.85" cy="870.77" r="3.45"/><circle cx="619.25" cy="903.05" r="3.45"/><circle cx="625.85" cy="903.05" r="3.45"/><circle cx="622.55" cy="935.33" r="3.45"/></g><g fill="#0000FF"><circle cx="660.05" cy="612.50" r="4.2"/><circle cx="665.25" cy="612.50" r="4.2"/><circle cx="670.45" cy="612.50" r="4.2"/><circle cx="675.65" cy="612.50" r="4.2"/><circle cx="680.85" cy="612.50" r="4.2"/><circle cx="686.05" cy="612.50" r="4.2"/><circle cx="665.25" cy="644.78" r="4.2"/><circle cx="670.45" cy="644.78" r="4.2"/><circle cx="675.65" cy="644.78" r="4.2"/><circle cx="680.85" cy="644.78" r="4.2"/><circle cx="665.25" cy="677.07" r="4.2"/><circle cx="670.45" cy="677.07" r="4.2"/><circle cx="675.65" cy="677.07" r="4.2"/><circle cx="680.85" cy="677.07" r="4.2"/><circle cx="670.45" cy="709.35" r="4.2"/><circle cx="675.65" cy="709.35" r="4.2"/><circle cx="673.05" cy="741.63" r="4.2"/><circle cx="673.05" cy="773.92" r="4.2"/><circle cx="670.45" cy="806.20" r="4.2"/><circle cx="675.65" cy="806.20" r="4.2"/></g><g fill="#8C0000"><circle cx="747.15" cy="677.07" r="4.20"/><circle cx="752.30" cy="677.07" r="4.20"/><circle cx="757.45" cy="677.07" r="4.20"/><circle cx="762.60" cy="677.07" r="4.20"/><circle cx="767.75" cy="677.07" r="4.20"/><circle cx="744.58" cy="709.35" r="4.20"/><circle cx="749.73" cy="709.35" r="4.20"/><circle cx="754.88" cy="709.35" r="4.20"/><circle cx="760.03" cy="709.35" r="4.20"/><circle cx="765.18" cy="709.35" r="4.20"/><circle cx="770.33" cy="709.35" r="4.20"/><circle cx="754.88" cy="741.63" r="4.20"/><circle cx="760.03" cy="741.63" r="4.20"/><circle cx="752.30" cy="773.92" r="4.20"/><circle cx="757.45" cy="773.92" r="4.20"/><circle cx="762.60" cy="773.92" r="4.20"/><circle cx="757.45" cy="870.77" r="4.20"/><circle cx="754.88" cy="890.30" r="4.20"/><circle cx="760.03" cy="890.30" r="4.20"/><circle cx="757.45" cy="935.33" r="4.20"/></g><g fill="#A20000"><circle cx="747.15" cy="677.07" r="3.45"/><circle cx="752.30" cy="677.07" r="3.45"/><circle cx="757.45" cy="677.07" r="3.45"/><circle cx="762.60" cy="677.07" r="3.45"/><circle cx="767.75" cy="677.07" r="3.45"/><circle cx="744.58" cy="709.35" r="3.45"/><circle cx="749.73" cy="709.35" r="3.45"/><circle cx="754.88" cy="709.35" r="3.45"/><circle cx="760.03" cy="709.35" r="3.45"/><circle cx="765.18" cy="709.35" r="3.45"/><circle cx="770.33" cy="709.35" r="3.45"/><circle cx="754.88" cy="741.63" r="3.45"/><circle cx="760.03" cy="741.63" r="3.45"/><circle cx="752.30" cy="773.92" r="3.45"/><circle cx="757.45" cy="773.92" r="3.45"/><circle cx="762.60" cy="773.92" r="3.45"/><circle cx="757.45" cy="870.77" r="3.45"/><circle cx="754.88" cy="890.30" r="3.45"/><circle cx="760.03" cy="890.30" r="3.45"/><circle cx="757.45" cy="935.33" r="3.45"/></g><g fill="#0000FF"><circle cx="805.75" cy="612.50" r="4.2"/><circle cx="810.75" cy="612.50" r="4.2"/><circle cx="795.35" cy="644.78" r="4.2"/><circle cx="799.65" cy="644.78" r="4.2"/><circle cx="803.95" cy="644.78" r="4.2"/><circle cx="808.25" cy="644.78" r="4.2"/><circle cx="812.55" cy="644.78" r="4.2"/><circle cx="816.85" cy="644.78" r="4.2"/><circle cx="821.15" cy="644.78" r="4.2"/><circle cx="803.95" cy="677.07" r="4.2"/><circle cx="808.25" cy="677.07" r="4.2"/><circle cx="812.55" cy="677.07" r="4.2"/><circle cx="806.25" cy="709.35" r="4.2"/><circle cx="810.25" cy="709.35" r="4.2"/><circle cx="806.25" cy="741.63" r="4.2"/><circle cx="810.25" cy="741.63" r="4.2"/><circle cx="808.25" cy="773.92" r="4.2"/></g><g fill="#8C0000"><circle cx="879.35" cy="644.78" r="4.20"/><circle cx="885.95" cy="644.78" r="4.20"/><circle cx="892.55" cy="644.78" r="4.20"/><circle cx="899.15" cy="644.78" r="4.20"/><circle cx="905.75" cy="644.78" r="4.20"/><circle cx="882.65" cy="677.07" r="4.20"/><circle cx="889.25" cy="677.07" r="4.20"/><circle cx="895.85" cy="677.07" r="4.20"/><circle cx="902.45" cy="677.07" r="4.20"/><circle cx="892.55" cy="709.35" r="4.20"/><circle cx="889.25" cy="741.63" r="4.20"/><circle cx="895.85" cy="741.63" r="4.20"/><circle cx="889.25" cy="773.92" r="4.20"/><circle cx="895.85" cy="773.92" r="4.20"/><circle cx="882.65" cy="806.20" r="4.20"/><circle cx="889.25" cy="806.20" r="4.20"/><circle cx="895.85" cy="806.20" r="4.20"/><circle cx="902.45" cy="806.20" r="4.20"/><circle cx="892.55" cy="838.48" r="4.20"/><circle cx="892.55" cy="935.33" r="4.20"/></g><g fill="#A20000"><circle cx="879.35" cy="644.78" r="3.45"/><circle cx="885.95" cy="644.78" r="3.45"/><circle cx="892.55" cy="644.78" r="3.45"/><circle cx="899.15" cy="644.78" r="3.45"/><circle cx="905.75" cy="644.78" r="3.45"/><circle cx="882.65" cy="677.07" r="3.45"/><circle cx="889.25" cy="677.07" r="3.45"/><circle cx="895.85" cy="677.07" r="3.45"/><circle cx="902.45" cy="677.07" r="3.45"/><circle cx="892.55" cy="709.35" r="3.45"/><circle cx="889.25" cy="741.63" r="3.45"/><circle cx="895.85" cy="741.63" r="3.45"/><circle cx="889.25" cy="773.92" r="3.45"/><circle cx="895.85" cy="773.92" r="3.45"/><circle cx="882.65" cy="806.20" r="3.45"/><circle cx="889.25" cy="806.20" r="3.45"/><circle cx="895.85" cy="806.20" r="3.45"/><circle cx="902.45" cy="806.20" r="3.45"/><circle cx="892.55" cy="838.48" r="3.45"/><circle cx="892.55" cy="935.33" r="3.45"/></g><g fill="#0000FF"><circle cx="929.95" cy="612.50" r="4.2"/><circle cx="935.15" cy="612.50" r="4.2"/><circle cx="940.35" cy="612.50" r="4.2"/><circle cx="945.55" cy="612.50" r="4.2"/><circle cx="950.75" cy="612.50" r="4.2"/><circle cx="955.95" cy="612.50" r="4.2"/><circle cx="937.75" cy="644.78" r="4.2"/><circle cx="942.95" cy="644.78" r="4.2"/><circle cx="948.15" cy="644.78" r="4.2"/><circle cx="929.95" cy="677.07" r="4.2"/><circle cx="935.15" cy="677.07" r="4.2"/><circle cx="940.35" cy="677.07" r="4.2"/><circle cx="945.55" cy="677.07" r="4.2"/><circle cx="950.75" cy="677.07" r="4.2"/><circle cx="955.95" cy="677.07" r="4.2"/><circle cx="937.75" cy="709.35" r="4.2"/><circle cx="942.95" cy="709.35" r="4.2"/><circle cx="948.15" cy="709.35" r="4.2"/><circle cx="942.95" cy="741.63" r="4.2"/><circle cx="940.35" cy="773.92" r="4.2"/><circle cx="945.55" cy="773.92" r="4.2"/></g><rect x="1064.30" y="741.00" width="29.90" height="258.90" fill="#FFDEE1" stroke="#fff" stroke-width="5.4"/><rect x="1114.90" y="692.90" width="29.90" height="307.00" fill="#93BFF6" stroke="#fff" stroke-width="5.4"/><rect x="1199.20" y="700.30" width="29.90" height="299.60" fill="#FFDEE1" stroke="#fff" stroke-width="5.4"/><rect x="1249.90" y="694.00" width="29.90" height="305.90" fill="#93BFF6" stroke="#fff" stroke-width="5.4"/><rect x="1334.20" y="671.20" width="29.90" height="328.70" fill="#FFDEE1" stroke="#fff" stroke-width="5.4"/><rect x="1384.60" y="655.40" width="29.90" height="344.50" fill="#93BFF6" stroke="#fff" stroke-width="5.4"/><g fill="#fff"><circle cx="1074.85" cy="644.78" r="4.80"/><circle cx="1079.25" cy="644.78" r="4.80"/><circle cx="1083.65" cy="644.78" r="4.80"/><circle cx="1066.35" cy="677.07" r="4.80"/><circle cx="1070.65" cy="677.07" r="4.80"/><circle cx="1074.95" cy="677.07" r="4.80"/><circle cx="1079.25" cy="677.07" r="4.80"/><circle cx="1083.55" cy="677.07" r="4.80"/><circle cx="1087.85" cy="677.07" r="4.80"/><circle cx="1092.15" cy="677.07" r="4.80"/><circle cx="1074.85" cy="709.35" r="4.80"/><circle cx="1079.25" cy="709.35" r="4.80"/><circle cx="1083.65" cy="709.35" r="4.80"/><circle cx="1074.85" cy="741.63" r="4.80"/><circle cx="1079.25" cy="741.63" r="4.80"/><circle cx="1083.65" cy="741.63" r="4.80"/><circle cx="1079.25" cy="806.20" r="4.80"/><circle cx="1077.05" cy="935.33" r="4.80"/><circle cx="1081.45" cy="935.33" r="4.80"/><circle cx="1120.10" cy="612.50" r="4.80"/><circle cx="1126.60" cy="612.50" r="4.80"/><circle cx="1133.10" cy="612.50" r="4.80"/><circle cx="1139.60" cy="612.50" r="4.80"/><circle cx="1116.85" cy="644.78" r="4.80"/><circle cx="1123.35" cy="644.78" r="4.80"/><circle cx="1129.85" cy="644.78" r="4.80"/><circle cx="1136.35" cy="644.78" r="4.80"/><circle cx="1142.85" cy="644.78" r="4.80"/><circle cx="1126.60" cy="677.07" r="4.80"/><circle cx="1133.10" cy="677.07" r="4.80"/><circle cx="1120.10" cy="709.35" r="4.80"/><circle cx="1126.60" cy="709.35" r="4.80"/><circle cx="1133.10" cy="709.35" r="4.80"/><circle cx="1139.60" cy="709.35" r="4.80"/><circle cx="1126.60" cy="741.63" r="4.80"/><circle cx="1133.10" cy="741.63" r="4.80"/><circle cx="1123.35" cy="773.92" r="4.80"/><circle cx="1129.85" cy="773.92" r="4.80"/><circle cx="1136.35" cy="773.92" r="4.80"/><circle cx="1206.35" cy="644.78" r="4.80"/><circle cx="1211.55" cy="644.78" r="4.80"/><circle cx="1216.75" cy="644.78" r="4.80"/><circle cx="1221.95" cy="644.78" r="4.80"/><circle cx="1208.95" cy="677.07" r="4.80"/><circle cx="1214.15" cy="677.07" r="4.80"/><circle cx="1219.35" cy="677.07" r="4.80"/><circle cx="1201.15" cy="709.35" r="4.80"/><circle cx="1206.35" cy="709.35" r="4.80"/><circle cx="1211.55" cy="709.35" r="4.80"/><circle cx="1216.75" cy="709.35" r="4.80"/><circle cx="1221.95" cy="709.35" r="4.80"/><circle cx="1227.15" cy="709.35" r="4.80"/><circle cx="1214.15" cy="741.63" r="4.80"/><circle cx="1208.95" cy="773.92" r="4.80"/><circle cx="1214.15" cy="773.92" r="4.80"/><circle cx="1219.35" cy="773.92" r="4.80"/><circle cx="1214.15" cy="806.20" r="4.80"/><circle cx="1211.55" cy="870.77" r="4.80"/><circle cx="1216.75" cy="870.77" r="4.80"/><circle cx="1255.10" cy="612.50" r="4.80"/><circle cx="1261.60" cy="612.50" r="4.80"/><circle cx="1268.10" cy="612.50" r="4.80"/><circle cx="1274.60" cy="612.50" r="4.80"/><circle cx="1255.10" cy="644.78" r="4.80"/><circle cx="1261.60" cy="644.78" r="4.80"/><circle cx="1268.10" cy="644.78" r="4.80"/><circle cx="1274.60" cy="644.78" r="4.80"/><circle cx="1258.35" cy="677.07" r="4.80"/><circle cx="1264.85" cy="677.07" r="4.80"/><circle cx="1271.35" cy="677.07" r="4.80"/><circle cx="1255.10" cy="709.35" r="4.80"/><circle cx="1261.60" cy="709.35" r="4.80"/><circle cx="1268.10" cy="709.35" r="4.80"/><circle cx="1274.60" cy="709.35" r="4.80"/><circle cx="1264.85" cy="741.63" r="4.80"/><circle cx="1264.85" cy="773.92" r="4.80"/><circle cx="1261.60" cy="806.20" r="4.80"/><circle cx="1268.10" cy="806.20" r="4.80"/><circle cx="1340.75" cy="644.78" r="4.80"/><circle cx="1344.95" cy="644.78" r="4.80"/><circle cx="1349.15" cy="644.78" r="4.80"/><circle cx="1353.35" cy="644.78" r="4.80"/><circle cx="1357.55" cy="644.78" r="4.80"/><circle cx="1336.55" cy="677.07" r="4.80"/><circle cx="1340.75" cy="677.07" r="4.80"/><circle cx="1344.95" cy="677.07" r="4.80"/><circle cx="1349.15" cy="677.07" r="4.80"/><circle cx="1353.35" cy="677.07" r="4.80"/><circle cx="1357.55" cy="677.07" r="4.80"/><circle cx="1361.75" cy="677.07" r="4.80"/><circle cx="1342.85" cy="709.35" r="4.80"/><circle cx="1347.05" cy="709.35" r="4.80"/><circle cx="1351.25" cy="709.35" r="4.80"/><circle cx="1355.45" cy="709.35" r="4.80"/><circle cx="1349.15" cy="741.63" r="4.80"/><circle cx="1344.95" cy="773.92" r="4.80"/><circle cx="1349.15" cy="773.92" r="4.80"/><circle cx="1353.35" cy="773.92" r="4.80"/><circle cx="1386.95" cy="612.50" r="4.80"/><circle cx="1391.15" cy="612.50" r="4.80"/><circle cx="1395.35" cy="612.50" r="4.80"/><circle cx="1399.55" cy="612.50" r="4.80"/><circle cx="1403.75" cy="612.50" r="4.80"/><circle cx="1407.95" cy="612.50" r="4.80"/><circle cx="1412.15" cy="612.50" r="4.80"/><circle cx="1386.95" cy="644.78" r="4.80"/><circle cx="1391.15" cy="644.78" r="4.80"/><circle cx="1395.35" cy="644.78" r="4.80"/><circle cx="1399.55" cy="644.78" r="4.80"/><circle cx="1403.75" cy="644.78" r="4.80"/><circle cx="1407.95" cy="644.78" r="4.80"/><circle cx="1412.15" cy="644.78" r="4.80"/><circle cx="1397.05" cy="677.07" r="4.80"/><circle cx="1402.05" cy="677.07" r="4.80"/><circle cx="1395.05" cy="709.35" r="4.80"/><circle cx="1399.55" cy="709.35" r="4.80"/><circle cx="1404.05" cy="709.35" r="4.80"/><circle cx="1399.55" cy="773.92" r="4.80"/></g><path d="M1070.25,713.00 H1088.25 M1079.25,713.00 V763.90 M1070.25,763.90 H1088.25M1120.85,674.40 H1138.85 M1129.85,674.40 V705.40 M1120.85,705.40 H1138.85M1205.15,685.70 H1223.15 M1214.15,685.70 V709.50 M1205.15,709.50 H1223.15M1255.85,677.50 H1273.85 M1264.85,677.50 V709.50 M1255.85,709.50 H1273.85M1340.15,660.90 H1358.15 M1349.15,660.90 V681.50 M1340.15,681.50 H1358.15M1390.55,647.80 H1408.55 M1399.55,647.80 V663.00 M1390.55,663.00 H1408.55" stroke="#fff" stroke-width="5.1" fill="none"/><path d="M1064.30,999.90 V741.00 H1094.20 V999.90" fill="none" stroke="#990000" stroke-width="4"/><path d="M1114.90,999.90 V692.90 H1144.80 V999.90" fill="none" stroke="#0000FF" stroke-width="4"/><path d="M1199.20,999.90 V700.30 H1229.10 V999.90" fill="none" stroke="#990000" stroke-width="4"/><path d="M1249.90,999.90 V694.00 H1279.80 V999.90" fill="none" stroke="#0000FF" stroke-width="4"/><path d="M1334.20,999.90 V671.20 H1364.10 V999.90" fill="none" stroke="#990000" stroke-width="4"/><path d="M1384.60,999.90 V655.40 H1414.50 V999.90" fill="none" stroke="#0000FF" stroke-width="4"/><path d="M1034.40,610.40 V999.90 H1435.30" fill="none" stroke="#000" stroke-width="4"/><path d="M1032.40,612.50 H1050.60" stroke="#000" stroke-width="4.1"/><path d="M1032.40,709.35 H1050.60" stroke="#000" stroke-width="4.1"/><path d="M1032.40,806.20 H1050.60" stroke="#000" stroke-width="4.1"/><path d="M1032.40,903.05 H1050.60" stroke="#000" stroke-width="4.1"/><path d="M1070.85,713.00 H1087.65 M1079.25,713.00 V763.90 M1070.85,763.90 H1087.65M1121.45,674.40 H1138.25 M1129.85,674.40 V705.40 M1121.45,705.40 H1138.25M1205.75,685.70 H1222.55 M1214.15,685.70 V709.50 M1205.75,709.50 H1222.55M1256.45,677.50 H1273.25 M1264.85,677.50 V709.50 M1256.45,709.50 H1273.25M1340.75,660.90 H1357.55 M1349.15,660.90 V681.50 M1340.75,681.50 H1357.55M1391.15,647.80 H1407.95 M1399.55,647.80 V663.00 M1391.15,663.00 H1407.95" stroke="#000" stroke-width="3.9" fill="none"/><g fill="#8C0000"><circle cx="1074.85" cy="644.78" r="4.20"/><circle cx="1079.25" cy="644.78" r="4.20"/><circle cx="1083.65" cy="644.78" r="4.20"/><circle cx="1066.35" cy="677.07" r="4.20"/><circle cx="1070.65" cy="677.07" r="4.20"/><circle cx="1074.95" cy="677.07" r="4.20"/><circle cx="1079.25" cy="677.07" r="4.20"/><circle cx="1083.55" cy="677.07" r="4.20"/><circle cx="1087.85" cy="677.07" r="4.20"/><circle cx="1092.15" cy="677.07" r="4.20"/><circle cx="1074.85" cy="709.35" r="4.20"/><circle cx="1079.25" cy="709.35" r="4.20"/><circle cx="1083.65" cy="709.35" r="4.20"/><circle cx="1074.85" cy="741.63" r="4.20"/><circle cx="1079.25" cy="741.63" r="4.20"/><circle cx="1083.65" cy="741.63" r="4.20"/><circle cx="1079.25" cy="806.20" r="4.20"/><circle cx="1077.05" cy="935.33" r="4.20"/><circle cx="1081.45" cy="935.33" r="4.20"/></g><g fill="#A20000"><circle cx="1074.85" cy="644.78" r="3.45"/><circle cx="1079.25" cy="644.78" r="3.45"/><circle cx="1083.65" cy="644.78" r="3.45"/><circle cx="1066.35" cy="677.07" r="3.45"/><circle cx="1070.65" cy="677.07" r="3.45"/><circle cx="1074.95" cy="677.07" r="3.45"/><circle cx="1079.25" cy="677.07" r="3.45"/><circle cx="1083.55" cy="677.07" r="3.45"/><circle cx="1087.85" cy="677.07" r="3.45"/><circle cx="1092.15" cy="677.07" r="3.45"/><circle cx="1074.85" cy="709.35" r="3.45"/><circle cx="1079.25" cy="709.35" r="3.45"/><circle cx="1083.65" cy="709.35" r="3.45"/><circle cx="1074.85" cy="741.63" r="3.45"/><circle cx="1079.25" cy="741.63" r="3.45"/><circle cx="1083.65" cy="741.63" r="3.45"/><circle cx="1079.25" cy="806.20" r="3.45"/><circle cx="1077.05" cy="935.33" r="3.45"/><circle cx="1081.45" cy="935.33" r="3.45"/></g><g fill="#0000FF"><circle cx="1120.10" cy="612.50" r="4.2"/><circle cx="1126.60" cy="612.50" r="4.2"/><circle cx="1133.10" cy="612.50" r="4.2"/><circle cx="1139.60" cy="612.50" r="4.2"/><circle cx="1116.85" cy="644.78" r="4.2"/><circle cx="1123.35" cy="644.78" r="4.2"/><circle cx="1129.85" cy="644.78" r="4.2"/><circle cx="1136.35" cy="644.78" r="4.2"/><circle cx="1142.85" cy="644.78" r="4.2"/><circle cx="1126.60" cy="677.07" r="4.2"/><circle cx="1133.10" cy="677.07" r="4.2"/><circle cx="1120.10" cy="709.35" r="4.2"/><circle cx="1126.60" cy="709.35" r="4.2"/><circle cx="1133.10" cy="709.35" r="4.2"/><circle cx="1139.60" cy="709.35" r="4.2"/><circle cx="1126.60" cy="741.63" r="4.2"/><circle cx="1133.10" cy="741.63" r="4.2"/><circle cx="1123.35" cy="773.92" r="4.2"/><circle cx="1129.85" cy="773.92" r="4.2"/><circle cx="1136.35" cy="773.92" r="4.2"/></g><g fill="#8C0000"><circle cx="1206.35" cy="644.78" r="4.20"/><circle cx="1211.55" cy="644.78" r="4.20"/><circle cx="1216.75" cy="644.78" r="4.20"/><circle cx="1221.95" cy="644.78" r="4.20"/><circle cx="1208.95" cy="677.07" r="4.20"/><circle cx="1214.15" cy="677.07" r="4.20"/><circle cx="1219.35" cy="677.07" r="4.20"/><circle cx="1201.15" cy="709.35" r="4.20"/><circle cx="1206.35" cy="709.35" r="4.20"/><circle cx="1211.55" cy="709.35" r="4.20"/><circle cx="1216.75" cy="709.35" r="4.20"/><circle cx="1221.95" cy="709.35" r="4.20"/><circle cx="1227.15" cy="709.35" r="4.20"/><circle cx="1214.15" cy="741.63" r="4.20"/><circle cx="1208.95" cy="773.92" r="4.20"/><circle cx="1214.15" cy="773.92" r="4.20"/><circle cx="1219.35" cy="773.92" r="4.20"/><circle cx="1214.15" cy="806.20" r="4.20"/><circle cx="1211.55" cy="870.77" r="4.20"/><circle cx="1216.75" cy="870.77" r="4.20"/></g><g fill="#A20000"><circle cx="1206.35" cy="644.78" r="3.45"/><circle cx="1211.55" cy="644.78" r="3.45"/><circle cx="1216.75" cy="644.78" r="3.45"/><circle cx="1221.95" cy="644.78" r="3.45"/><circle cx="1208.95" cy="677.07" r="3.45"/><circle cx="1214.15" cy="677.07" r="3.45"/><circle cx="1219.35" cy="677.07" r="3.45"/><circle cx="1201.15" cy="709.35" r="3.45"/><circle cx="1206.35" cy="709.35" r="3.45"/><circle cx="1211.55" cy="709.35" r="3.45"/><circle cx="1216.75" cy="709.35" r="3.45"/><circle cx="1221.95" cy="709.35" r="3.45"/><circle cx="1227.15" cy="709.35" r="3.45"/><circle cx="1214.15" cy="741.63" r="3.45"/><circle cx="1208.95" cy="773.92" r="3.45"/><circle cx="1214.15" cy="773.92" r="3.45"/><circle cx="1219.35" cy="773.92" r="3.45"/><circle cx="1214.15" cy="806.20" r="3.45"/><circle cx="1211.55" cy="870.77" r="3.45"/><circle cx="1216.75" cy="870.77" r="3.45"/></g><g fill="#0000FF"><circle cx="1255.10" cy="612.50" r="4.2"/><circle cx="1261.60" cy="612.50" r="4.2"/><circle cx="1268.10" cy="612.50" r="4.2"/><circle cx="1274.60" cy="612.50" r="4.2"/><circle cx="1255.10" cy="644.78" r="4.2"/><circle cx="1261.60" cy="644.78" r="4.2"/><circle cx="1268.10" cy="644.78" r="4.2"/><circle cx="1274.60" cy="644.78" r="4.2"/><circle cx="1258.35" cy="677.07" r="4.2"/><circle cx="1264.85" cy="677.07" r="4.2"/><circle cx="1271.35" cy="677.07" r="4.2"/><circle cx="1255.10" cy="709.35" r="4.2"/><circle cx="1261.60" cy="709.35" r="4.2"/><circle cx="1268.10" cy="709.35" r="4.2"/><circle cx="1274.60" cy="709.35" r="4.2"/><circle cx="1264.85" cy="741.63" r="4.2"/><circle cx="1264.85" cy="773.92" r="4.2"/><circle cx="1261.60" cy="806.20" r="4.2"/><circle cx="1268.10" cy="806.20" r="4.2"/></g><g fill="#8C0000"><circle cx="1340.75" cy="644.78" r="4.20"/><circle cx="1344.95" cy="644.78" r="4.20"/><circle cx="1349.15" cy="644.78" r="4.20"/><circle cx="1353.35" cy="644.78" r="4.20"/><circle cx="1357.55" cy="644.78" r="4.20"/><circle cx="1336.55" cy="677.07" r="4.20"/><circle cx="1340.75" cy="677.07" r="4.20"/><circle cx="1344.95" cy="677.07" r="4.20"/><circle cx="1349.15" cy="677.07" r="4.20"/><circle cx="1353.35" cy="677.07" r="4.20"/><circle cx="1357.55" cy="677.07" r="4.20"/><circle cx="1361.75" cy="677.07" r="4.20"/><circle cx="1342.85" cy="709.35" r="4.20"/><circle cx="1347.05" cy="709.35" r="4.20"/><circle cx="1351.25" cy="709.35" r="4.20"/><circle cx="1355.45" cy="709.35" r="4.20"/><circle cx="1349.15" cy="741.63" r="4.20"/><circle cx="1344.95" cy="773.92" r="4.20"/><circle cx="1349.15" cy="773.92" r="4.20"/><circle cx="1353.35" cy="773.92" r="4.20"/></g><g fill="#A20000"><circle cx="1340.75" cy="644.78" r="3.45"/><circle cx="1344.95" cy="644.78" r="3.45"/><circle cx="1349.15" cy="644.78" r="3.45"/><circle cx="1353.35" cy="644.78" r="3.45"/><circle cx="1357.55" cy="644.78" r="3.45"/><circle cx="1336.55" cy="677.07" r="3.45"/><circle cx="1340.75" cy="677.07" r="3.45"/><circle cx="1344.95" cy="677.07" r="3.45"/><circle cx="1349.15" cy="677.07" r="3.45"/><circle cx="1353.35" cy="677.07" r="3.45"/><circle cx="1357.55" cy="677.07" r="3.45"/><circle cx="1361.75" cy="677.07" r="3.45"/><circle cx="1342.85" cy="709.35" r="3.45"/><circle cx="1347.05" cy="709.35" r="3.45"/><circle cx="1351.25" cy="709.35" r="3.45"/><circle cx="1355.45" cy="709.35" r="3.45"/><circle cx="1349.15" cy="741.63" r="3.45"/><circle cx="1344.95" cy="773.92" r="3.45"/><circle cx="1349.15" cy="773.92" r="3.45"/><circle cx="1353.35" cy="773.92" r="3.45"/></g><g fill="#0000FF"><circle cx="1386.95" cy="612.50" r="4.2"/><circle cx="1391.15" cy="612.50" r="4.2"/><circle cx="1395.35" cy="612.50" r="4.2"/><circle cx="1399.55" cy="612.50" r="4.2"/><circle cx="1403.75" cy="612.50" r="4.2"/><circle cx="1407.95" cy="612.50" r="4.2"/><circle cx="1412.15" cy="612.50" r="4.2"/><circle cx="1386.95" cy="644.78" r="4.2"/><circle cx="1391.15" cy="644.78" r="4.2"/><circle cx="1395.35" cy="644.78" r="4.2"/><circle cx="1399.55" cy="644.78" r="4.2"/><circle cx="1403.75" cy="644.78" r="4.2"/><circle cx="1407.95" cy="644.78" r="4.2"/><circle cx="1412.15" cy="644.78" r="4.2"/><circle cx="1397.05" cy="677.07" r="4.2"/><circle cx="1402.05" cy="677.07" r="4.2"/><circle cx="1395.05" cy="709.35" r="4.2"/><circle cx="1399.55" cy="709.35" r="4.2"/><circle cx="1404.05" cy="709.35" r="4.2"/><circle cx="1399.55" cy="773.92" r="4.2"/></g><g fill="#000"><rect x="167.50" y="170.90" width="2.6" height="5.0"/><rect x="172.92" y="170.90" width="2.6" height="5.0"/><rect x="178.34" y="170.90" width="2.6" height="5.0"/><rect x="183.77" y="170.90" width="2.6" height="5.0"/><rect x="189.19" y="170.90" width="2.6" height="5.0"/><rect x="194.61" y="170.90" width="2.6" height="5.0"/><rect x="200.03" y="170.90" width="2.6" height="5.0"/><rect x="205.46" y="170.90" width="2.6" height="5.0"/><rect x="210.88" y="170.90" width="2.6" height="5.0"/><rect x="216.30" y="170.90" width="2.6" height="5.0"/><rect x="165.00" y="174.40" width="5.2" height="2.6"/><rect x="165.00" y="180.00" width="5.2" height="2.6"/><rect x="165.00" y="185.50" width="5.2" height="2.6"/><rect x="216.40" y="174.40" width="5.2" height="2.6"/><rect x="216.40" y="180.00" width="5.2" height="2.6"/><rect x="216.40" y="185.50" width="5.2" height="2.6"/></g><g transform="translate(187.10,160.10)"><path d="M-0.18,0 L-1.358,-4.434 A1.42,1.42 0 1 1 1.358,-4.434 L0.18,0 Z" transform="rotate(0)"/><path d="M-0.18,0 L-1.325,-3.440 A1.42,1.42 0 1 1 1.325,-3.440 L0.18,0 Z" transform="rotate(70)"/><path d="M-0.18,0 L-1.325,-3.440 A1.42,1.42 0 1 1 1.325,-3.440 L0.18,0 Z" transform="rotate(-70)"/><path d="M-0.18,0 L-1.354,-4.271 A1.42,1.42 0 1 1 1.354,-4.271 L0.18,0 Z" transform="rotate(153)"/><path d="M-0.18,0 L-1.354,-4.271 A1.42,1.42 0 1 1 1.354,-4.271 L0.18,0 Z" transform="rotate(-153)"/></g><g transform="translate(199.50,160.10)"><path d="M-0.18,0 L-1.358,-4.434 A1.42,1.42 0 1 1 1.358,-4.434 L0.18,0 Z" transform="rotate(0)"/><path d="M-0.18,0 L-1.325,-3.440 A1.42,1.42 0 1 1 1.325,-3.440 L0.18,0 Z" transform="rotate(70)"/><path d="M-0.18,0 L-1.325,-3.440 A1.42,1.42 0 1 1 1.325,-3.440 L0.18,0 Z" transform="rotate(-70)"/><path d="M-0.18,0 L-1.354,-4.271 A1.42,1.42 0 1 1 1.354,-4.271 L0.18,0 Z" transform="rotate(153)"/><path d="M-0.18,0 L-1.354,-4.271 A1.42,1.42 0 1 1 1.354,-4.271 L0.18,0 Z" transform="rotate(-153)"/></g><g fill="#000"><rect x="302.10" y="232.50" width="2.6" height="5.0"/><rect x="307.48" y="232.50" width="2.6" height="5.0"/><rect x="312.86" y="232.50" width="2.6" height="5.0"/><rect x="318.23" y="232.50" width="2.6" height="5.0"/><rect x="323.61" y="232.50" width="2.6" height="5.0"/><rect x="328.99" y="232.50" width="2.6" height="5.0"/><rect x="334.37" y="232.50" width="2.6" height="5.0"/><rect x="339.74" y="232.50" width="2.6" height="5.0"/><rect x="345.12" y="232.50" width="2.6" height="5.0"/><rect x="350.50" y="232.50" width="2.6" height="5.0"/><rect x="299.60" y="236.00" width="5.2" height="2.6"/><rect x="299.60" y="241.60" width="5.2" height="2.6"/><rect x="299.60" y="247.10" width="5.2" height="2.6"/><rect x="350.60" y="236.00" width="5.2" height="2.6"/><rect x="350.60" y="241.60" width="5.2" height="2.6"/><rect x="350.60" y="247.10" width="5.2" height="2.6"/></g><g transform="translate(327.70,221.70)"><path d="M-0.18,0 L-1.358,-4.434 A1.42,1.42 0 1 1 1.358,-4.434 L0.18,0 Z" transform="rotate(0)"/><path d="M-0.18,0 L-1.325,-3.440 A1.42,1.42 0 1 1 1.325,-3.440 L0.18,0 Z" transform="rotate(70)"/><path d="M-0.18,0 L-1.325,-3.440 A1.42,1.42 0 1 1 1.325,-3.440 L0.18,0 Z" transform="rotate(-70)"/><path d="M-0.18,0 L-1.354,-4.271 A1.42,1.42 0 1 1 1.354,-4.271 L0.18,0 Z" transform="rotate(153)"/><path d="M-0.18,0 L-1.354,-4.271 A1.42,1.42 0 1 1 1.354,-4.271 L0.18,0 Z" transform="rotate(-153)"/></g><g fill="#000"><rect x="436.90" y="252.50" width="2.6" height="5.0"/><rect x="442.29" y="252.50" width="2.6" height="5.0"/><rect x="447.68" y="252.50" width="2.6" height="5.0"/><rect x="453.07" y="252.50" width="2.6" height="5.0"/><rect x="458.46" y="252.50" width="2.6" height="5.0"/><rect x="463.84" y="252.50" width="2.6" height="5.0"/><rect x="469.23" y="252.50" width="2.6" height="5.0"/><rect x="474.62" y="252.50" width="2.6" height="5.0"/><rect x="480.01" y="252.50" width="2.6" height="5.0"/><rect x="485.40" y="252.50" width="2.6" height="5.0"/><rect x="434.40" y="256.00" width="5.2" height="2.6"/><rect x="434.40" y="261.60" width="5.2" height="2.6"/><rect x="434.40" y="267.10" width="5.2" height="2.6"/><rect x="485.50" y="256.00" width="5.2" height="2.6"/><rect x="485.50" y="261.60" width="5.2" height="2.6"/><rect x="485.50" y="267.10" width="5.2" height="2.6"/></g><g transform="translate(462.55,241.70)"><path d="M-0.18,0 L-1.358,-4.434 A1.42,1.42 0 1 1 1.358,-4.434 L0.18,0 Z" transform="rotate(0)"/><path d="M-0.18,0 L-1.325,-3.440 A1.42,1.42 0 1 1 1.325,-3.440 L0.18,0 Z" transform="rotate(70)"/><path d="M-0.18,0 L-1.325,-3.440 A1.42,1.42 0 1 1 1.325,-3.440 L0.18,0 Z" transform="rotate(-70)"/><path d="M-0.18,0 L-1.354,-4.271 A1.42,1.42 0 1 1 1.354,-4.271 L0.18,0 Z" transform="rotate(153)"/><path d="M-0.18,0 L-1.354,-4.271 A1.42,1.42 0 1 1 1.354,-4.271 L0.18,0 Z" transform="rotate(-153)"/></g><g fill="#000"><rect x="627.90" y="111.50" width="2.6" height="5.0"/><rect x="633.33" y="111.50" width="2.6" height="5.0"/><rect x="638.77" y="111.50" width="2.6" height="5.0"/><rect x="644.20" y="111.50" width="2.6" height="5.0"/><rect x="649.63" y="111.50" width="2.6" height="5.0"/><rect x="655.07" y="111.50" width="2.6" height="5.0"/><rect x="660.50" y="111.50" width="2.6" height="5.0"/><rect x="665.93" y="111.50" width="2.6" height="5.0"/><rect x="671.37" y="111.50" width="2.6" height="5.0"/><rect x="676.80" y="111.50" width="2.6" height="5.0"/><rect x="625.40" y="115.00" width="5.2" height="2.6"/><rect x="625.40" y="120.60" width="5.2" height="2.6"/><rect x="625.40" y="126.10" width="5.2" height="2.6"/><rect x="676.90" y="115.00" width="5.2" height="2.6"/><rect x="676.90" y="120.60" width="5.2" height="2.6"/><rect x="676.90" y="126.10" width="5.2" height="2.6"/></g><g transform="translate(647.55,100.70)"><path d="M-0.18,0 L-1.358,-4.434 A1.42,1.42 0 1 1 1.358,-4.434 L0.18,0 Z" transform="rotate(0)"/><path d="M-0.18,0 L-1.325,-3.440 A1.42,1.42 0 1 1 1.325,-3.440 L0.18,0 Z" transform="rotate(70)"/><path d="M-0.18,0 L-1.325,-3.440 A1.42,1.42 0 1 1 1.325,-3.440 L0.18,0 Z" transform="rotate(-70)"/><path d="M-0.18,0 L-1.354,-4.271 A1.42,1.42 0 1 1 1.354,-4.271 L0.18,0 Z" transform="rotate(153)"/><path d="M-0.18,0 L-1.354,-4.271 A1.42,1.42 0 1 1 1.354,-4.271 L0.18,0 Z" transform="rotate(-153)"/></g><g transform="translate(659.95,100.70)"><path d="M-0.18,0 L-1.358,-4.434 A1.42,1.42 0 1 1 1.358,-4.434 L0.18,0 Z" transform="rotate(0)"/><path d="M-0.18,0 L-1.325,-3.440 A1.42,1.42 0 1 1 1.325,-3.440 L0.18,0 Z" transform="rotate(70)"/><path d="M-0.18,0 L-1.325,-3.440 A1.42,1.42 0 1 1 1.325,-3.440 L0.18,0 Z" transform="rotate(-70)"/><path d="M-0.18,0 L-1.354,-4.271 A1.42,1.42 0 1 1 1.354,-4.271 L0.18,0 Z" transform="rotate(153)"/><path d="M-0.18,0 L-1.354,-4.271 A1.42,1.42 0 1 1 1.354,-4.271 L0.18,0 Z" transform="rotate(-153)"/></g><g fill="#000"><rect x="762.90" y="153.50" width="2.6" height="5.0"/><rect x="768.30" y="153.50" width="2.6" height="5.0"/><rect x="773.70" y="153.50" width="2.6" height="5.0"/><rect x="779.10" y="153.50" width="2.6" height="5.0"/><rect x="784.50" y="153.50" width="2.6" height="5.0"/><rect x="789.90" y="153.50" width="2.6" height="5.0"/><rect x="795.30" y="153.50" width="2.6" height="5.0"/><rect x="800.70" y="153.50" width="2.6" height="5.0"/><rect x="806.10" y="153.50" width="2.6" height="5.0"/><rect x="811.50" y="153.50" width="2.6" height="5.0"/><rect x="760.40" y="157.00" width="5.2" height="2.6"/><rect x="760.40" y="162.60" width="5.2" height="2.6"/><rect x="760.40" y="168.10" width="5.2" height="2.6"/><rect x="811.60" y="157.00" width="5.2" height="2.6"/><rect x="811.60" y="162.60" width="5.2" height="2.6"/><rect x="811.60" y="168.10" width="5.2" height="2.6"/></g><g transform="translate(788.60,142.70)"><path d="M-0.18,0 L-1.358,-4.434 A1.42,1.42 0 1 1 1.358,-4.434 L0.18,0 Z" transform="rotate(0)"/><path d="M-0.18,0 L-1.325,-3.440 A1.42,1.42 0 1 1 1.325,-3.440 L0.18,0 Z" transform="rotate(70)"/><path d="M-0.18,0 L-1.325,-3.440 A1.42,1.42 0 1 1 1.325,-3.440 L0.18,0 Z" transform="rotate(-70)"/><path d="M-0.18,0 L-1.354,-4.271 A1.42,1.42 0 1 1 1.354,-4.271 L0.18,0 Z" transform="rotate(153)"/><path d="M-0.18,0 L-1.354,-4.271 A1.42,1.42 0 1 1 1.354,-4.271 L0.18,0 Z" transform="rotate(-153)"/></g><g fill="#000"><rect x="1084.80" y="101.50" width="2.6" height="5.0"/><rect x="1090.41" y="101.50" width="2.6" height="5.0"/><rect x="1096.02" y="101.50" width="2.6" height="5.0"/><rect x="1101.63" y="101.50" width="2.6" height="5.0"/><rect x="1107.24" y="101.50" width="2.6" height="5.0"/><rect x="1112.86" y="101.50" width="2.6" height="5.0"/><rect x="1118.47" y="101.50" width="2.6" height="5.0"/><rect x="1124.08" y="101.50" width="2.6" height="5.0"/><rect x="1129.69" y="101.50" width="2.6" height="5.0"/><rect x="1135.30" y="101.50" width="2.6" height="5.0"/><rect x="1082.30" y="105.00" width="5.2" height="2.6"/><rect x="1082.30" y="110.60" width="5.2" height="2.6"/><rect x="1082.30" y="116.10" width="5.2" height="2.6"/><rect x="1135.40" y="105.00" width="5.2" height="2.6"/><rect x="1135.40" y="110.60" width="5.2" height="2.6"/><rect x="1135.40" y="116.10" width="5.2" height="2.6"/></g><g transform="translate(1099.05,90.70)"><path d="M-0.18,0 L-1.358,-4.434 A1.42,1.42 0 1 1 1.358,-4.434 L0.18,0 Z" transform="rotate(0)"/><path d="M-0.18,0 L-1.325,-3.440 A1.42,1.42 0 1 1 1.325,-3.440 L0.18,0 Z" transform="rotate(70)"/><path d="M-0.18,0 L-1.325,-3.440 A1.42,1.42 0 1 1 1.325,-3.440 L0.18,0 Z" transform="rotate(-70)"/><path d="M-0.18,0 L-1.354,-4.271 A1.42,1.42 0 1 1 1.354,-4.271 L0.18,0 Z" transform="rotate(153)"/><path d="M-0.18,0 L-1.354,-4.271 A1.42,1.42 0 1 1 1.354,-4.271 L0.18,0 Z" transform="rotate(-153)"/></g><g transform="translate(1111.45,90.70)"><path d="M-0.18,0 L-1.358,-4.434 A1.42,1.42 0 1 1 1.358,-4.434 L0.18,0 Z" transform="rotate(0)"/><path d="M-0.18,0 L-1.325,-3.440 A1.42,1.42 0 1 1 1.325,-3.440 L0.18,0 Z" transform="rotate(70)"/><path d="M-0.18,0 L-1.325,-3.440 A1.42,1.42 0 1 1 1.325,-3.440 L0.18,0 Z" transform="rotate(-70)"/><path d="M-0.18,0 L-1.354,-4.271 A1.42,1.42 0 1 1 1.354,-4.271 L0.18,0 Z" transform="rotate(153)"/><path d="M-0.18,0 L-1.354,-4.271 A1.42,1.42 0 1 1 1.354,-4.271 L0.18,0 Z" transform="rotate(-153)"/></g><g transform="translate(1123.85,90.70)"><path d="M-0.18,0 L-1.358,-4.434 A1.42,1.42 0 1 1 1.358,-4.434 L0.18,0 Z" transform="rotate(0)"/><path d="M-0.18,0 L-1.325,-3.440 A1.42,1.42 0 1 1 1.325,-3.440 L0.18,0 Z" transform="rotate(70)"/><path d="M-0.18,0 L-1.325,-3.440 A1.42,1.42 0 1 1 1.325,-3.440 L0.18,0 Z" transform="rotate(-70)"/><path d="M-0.18,0 L-1.354,-4.271 A1.42,1.42 0 1 1 1.354,-4.271 L0.18,0 Z" transform="rotate(153)"/><path d="M-0.18,0 L-1.354,-4.271 A1.42,1.42 0 1 1 1.354,-4.271 L0.18,0 Z" transform="rotate(-153)"/></g><g fill="#000"><rect x="1219.20" y="78.50" width="2.6" height="5.0"/><rect x="1224.60" y="78.50" width="2.6" height="5.0"/><rect x="1230.00" y="78.50" width="2.6" height="5.0"/><rect x="1235.40" y="78.50" width="2.6" height="5.0"/><rect x="1240.80" y="78.50" width="2.6" height="5.0"/><rect x="1246.20" y="78.50" width="2.6" height="5.0"/><rect x="1251.60" y="78.50" width="2.6" height="5.0"/><rect x="1257.00" y="78.50" width="2.6" height="5.0"/><rect x="1262.40" y="78.50" width="2.6" height="5.0"/><rect x="1267.80" y="78.50" width="2.6" height="5.0"/><rect x="1216.70" y="82.00" width="5.2" height="2.6"/><rect x="1216.70" y="87.60" width="5.2" height="2.6"/><rect x="1216.70" y="93.10" width="5.2" height="2.6"/><rect x="1267.90" y="82.00" width="5.2" height="2.6"/><rect x="1267.90" y="87.60" width="5.2" height="2.6"/><rect x="1267.90" y="93.10" width="5.2" height="2.6"/></g><g transform="translate(1238.70,67.70)"><path d="M-0.18,0 L-1.358,-4.434 A1.42,1.42 0 1 1 1.358,-4.434 L0.18,0 Z" transform="rotate(0)"/><path d="M-0.18,0 L-1.325,-3.440 A1.42,1.42 0 1 1 1.325,-3.440 L0.18,0 Z" transform="rotate(70)"/><path d="M-0.18,0 L-1.325,-3.440 A1.42,1.42 0 1 1 1.325,-3.440 L0.18,0 Z" transform="rotate(-70)"/><path d="M-0.18,0 L-1.354,-4.271 A1.42,1.42 0 1 1 1.354,-4.271 L0.18,0 Z" transform="rotate(153)"/><path d="M-0.18,0 L-1.354,-4.271 A1.42,1.42 0 1 1 1.354,-4.271 L0.18,0 Z" transform="rotate(-153)"/></g><g transform="translate(1251.10,67.70)"><path d="M-0.18,0 L-1.358,-4.434 A1.42,1.42 0 1 1 1.358,-4.434 L0.18,0 Z" transform="rotate(0)"/><path d="M-0.18,0 L-1.325,-3.440 A1.42,1.42 0 1 1 1.325,-3.440 L0.18,0 Z" transform="rotate(70)"/><path d="M-0.18,0 L-1.325,-3.440 A1.42,1.42 0 1 1 1.325,-3.440 L0.18,0 Z" transform="rotate(-70)"/><path d="M-0.18,0 L-1.354,-4.271 A1.42,1.42 0 1 1 1.354,-4.271 L0.18,0 Z" transform="rotate(153)"/><path d="M-0.18,0 L-1.354,-4.271 A1.42,1.42 0 1 1 1.354,-4.271 L0.18,0 Z" transform="rotate(-153)"/></g><g fill="#000"><rect x="1357.90" y="119.30" width="2.6" height="5.0"/><rect x="1363.28" y="119.30" width="2.6" height="5.0"/><rect x="1368.66" y="119.30" width="2.6" height="5.0"/><rect x="1374.03" y="119.30" width="2.6" height="5.0"/><rect x="1379.41" y="119.30" width="2.6" height="5.0"/><rect x="1384.79" y="119.30" width="2.6" height="5.0"/><rect x="1390.17" y="119.30" width="2.6" height="5.0"/><rect x="1395.54" y="119.30" width="2.6" height="5.0"/><rect x="1400.92" y="119.30" width="2.6" height="5.0"/><rect x="1406.30" y="119.30" width="2.6" height="5.0"/><rect x="1355.40" y="122.80" width="5.2" height="2.6"/><rect x="1355.40" y="128.40" width="5.2" height="2.6"/><rect x="1355.40" y="133.90" width="5.2" height="2.6"/><rect x="1406.40" y="122.80" width="5.2" height="2.6"/><rect x="1406.40" y="128.40" width="5.2" height="2.6"/><rect x="1406.40" y="133.90" width="5.2" height="2.6"/></g><g transform="translate(1377.30,108.50)"><path d="M-0.18,0 L-1.358,-4.434 A1.42,1.42 0 1 1 1.358,-4.434 L0.18,0 Z" transform="rotate(0)"/><path d="M-0.18,0 L-1.325,-3.440 A1.42,1.42 0 1 1 1.325,-3.440 L0.18,0 Z" transform="rotate(70)"/><path d="M-0.18,0 L-1.325,-3.440 A1.42,1.42 0 1 1 1.325,-3.440 L0.18,0 Z" transform="rotate(-70)"/><path d="M-0.18,0 L-1.354,-4.271 A1.42,1.42 0 1 1 1.354,-4.271 L0.18,0 Z" transform="rotate(153)"/><path d="M-0.18,0 L-1.354,-4.271 A1.42,1.42 0 1 1 1.354,-4.271 L0.18,0 Z" transform="rotate(-153)"/></g><g transform="translate(1389.70,108.50)"><path d="M-0.18,0 L-1.358,-4.434 A1.42,1.42 0 1 1 1.358,-4.434 L0.18,0 Z" transform="rotate(0)"/><path d="M-0.18,0 L-1.325,-3.440 A1.42,1.42 0 1 1 1.325,-3.440 L0.18,0 Z" transform="rotate(70)"/><path d="M-0.18,0 L-1.325,-3.440 A1.42,1.42 0 1 1 1.325,-3.440 L0.18,0 Z" transform="rotate(-70)"/><path d="M-0.18,0 L-1.354,-4.271 A1.42,1.42 0 1 1 1.354,-4.271 L0.18,0 Z" transform="rotate(153)"/><path d="M-0.18,0 L-1.354,-4.271 A1.42,1.42 0 1 1 1.354,-4.271 L0.18,0 Z" transform="rotate(-153)"/></g><g fill="#000"><rect x="165.80" y="582.50" width="2.6" height="5.0"/><rect x="171.42" y="582.50" width="2.6" height="5.0"/><rect x="177.04" y="582.50" width="2.6" height="5.0"/><rect x="182.67" y="582.50" width="2.6" height="5.0"/><rect x="188.29" y="582.50" width="2.6" height="5.0"/><rect x="193.91" y="582.50" width="2.6" height="5.0"/><rect x="199.53" y="582.50" width="2.6" height="5.0"/><rect x="205.16" y="582.50" width="2.6" height="5.0"/><rect x="210.78" y="582.50" width="2.6" height="5.0"/><rect x="216.40" y="582.50" width="2.6" height="5.0"/><rect x="163.30" y="586.00" width="5.2" height="2.6"/><rect x="163.30" y="591.60" width="5.2" height="2.6"/><rect x="163.30" y="597.10" width="5.2" height="2.6"/><rect x="216.50" y="586.00" width="5.2" height="2.6"/><rect x="216.50" y="591.60" width="5.2" height="2.6"/><rect x="216.50" y="597.10" width="5.2" height="2.6"/></g><g transform="translate(180.10,571.70)"><path d="M-0.18,0 L-1.358,-4.434 A1.42,1.42 0 1 1 1.358,-4.434 L0.18,0 Z" transform="rotate(0)"/><path d="M-0.18,0 L-1.325,-3.440 A1.42,1.42 0 1 1 1.325,-3.440 L0.18,0 Z" transform="rotate(70)"/><path d="M-0.18,0 L-1.325,-3.440 A1.42,1.42 0 1 1 1.325,-3.440 L0.18,0 Z" transform="rotate(-70)"/><path d="M-0.18,0 L-1.354,-4.271 A1.42,1.42 0 1 1 1.354,-4.271 L0.18,0 Z" transform="rotate(153)"/><path d="M-0.18,0 L-1.354,-4.271 A1.42,1.42 0 1 1 1.354,-4.271 L0.18,0 Z" transform="rotate(-153)"/></g><g transform="translate(192.50,571.70)"><path d="M-0.18,0 L-1.358,-4.434 A1.42,1.42 0 1 1 1.358,-4.434 L0.18,0 Z" transform="rotate(0)"/><path d="M-0.18,0 L-1.325,-3.440 A1.42,1.42 0 1 1 1.325,-3.440 L0.18,0 Z" transform="rotate(70)"/><path d="M-0.18,0 L-1.325,-3.440 A1.42,1.42 0 1 1 1.325,-3.440 L0.18,0 Z" transform="rotate(-70)"/><path d="M-0.18,0 L-1.354,-4.271 A1.42,1.42 0 1 1 1.354,-4.271 L0.18,0 Z" transform="rotate(153)"/><path d="M-0.18,0 L-1.354,-4.271 A1.42,1.42 0 1 1 1.354,-4.271 L0.18,0 Z" transform="rotate(-153)"/></g><g transform="translate(204.90,571.70)"><path d="M-0.18,0 L-1.358,-4.434 A1.42,1.42 0 1 1 1.358,-4.434 L0.18,0 Z" transform="rotate(0)"/><path d="M-0.18,0 L-1.325,-3.440 A1.42,1.42 0 1 1 1.325,-3.440 L0.18,0 Z" transform="rotate(70)"/><path d="M-0.18,0 L-1.325,-3.440 A1.42,1.42 0 1 1 1.325,-3.440 L0.18,0 Z" transform="rotate(-70)"/><path d="M-0.18,0 L-1.354,-4.271 A1.42,1.42 0 1 1 1.354,-4.271 L0.18,0 Z" transform="rotate(153)"/><path d="M-0.18,0 L-1.354,-4.271 A1.42,1.42 0 1 1 1.354,-4.271 L0.18,0 Z" transform="rotate(-153)"/></g><g fill="#000"><rect x="302.00" y="582.50" width="2.6" height="5.0"/><rect x="307.40" y="582.50" width="2.6" height="5.0"/><rect x="312.80" y="582.50" width="2.6" height="5.0"/><rect x="318.20" y="582.50" width="2.6" height="5.0"/><rect x="323.60" y="582.50" width="2.6" height="5.0"/><rect x="329.00" y="582.50" width="2.6" height="5.0"/><rect x="334.40" y="582.50" width="2.6" height="5.0"/><rect x="339.80" y="582.50" width="2.6" height="5.0"/><rect x="345.20" y="582.50" width="2.6" height="5.0"/><rect x="350.60" y="582.50" width="2.6" height="5.0"/><rect x="299.50" y="586.00" width="5.2" height="2.6"/><rect x="299.50" y="591.60" width="5.2" height="2.6"/><rect x="299.50" y="597.10" width="5.2" height="2.6"/><rect x="350.70" y="586.00" width="5.2" height="2.6"/><rect x="350.70" y="591.60" width="5.2" height="2.6"/><rect x="350.70" y="597.10" width="5.2" height="2.6"/></g><g transform="translate(321.50,571.70)"><path d="M-0.18,0 L-1.358,-4.434 A1.42,1.42 0 1 1 1.358,-4.434 L0.18,0 Z" transform="rotate(0)"/><path d="M-0.18,0 L-1.325,-3.440 A1.42,1.42 0 1 1 1.325,-3.440 L0.18,0 Z" transform="rotate(70)"/><path d="M-0.18,0 L-1.325,-3.440 A1.42,1.42 0 1 1 1.325,-3.440 L0.18,0 Z" transform="rotate(-70)"/><path d="M-0.18,0 L-1.354,-4.271 A1.42,1.42 0 1 1 1.354,-4.271 L0.18,0 Z" transform="rotate(153)"/><path d="M-0.18,0 L-1.354,-4.271 A1.42,1.42 0 1 1 1.354,-4.271 L0.18,0 Z" transform="rotate(-153)"/></g><g transform="translate(333.90,571.70)"><path d="M-0.18,0 L-1.358,-4.434 A1.42,1.42 0 1 1 1.358,-4.434 L0.18,0 Z" transform="rotate(0)"/><path d="M-0.18,0 L-1.325,-3.440 A1.42,1.42 0 1 1 1.325,-3.440 L0.18,0 Z" transform="rotate(70)"/><path d="M-0.18,0 L-1.325,-3.440 A1.42,1.42 0 1 1 1.325,-3.440 L0.18,0 Z" transform="rotate(-70)"/><path d="M-0.18,0 L-1.354,-4.271 A1.42,1.42 0 1 1 1.354,-4.271 L0.18,0 Z" transform="rotate(153)"/><path d="M-0.18,0 L-1.354,-4.271 A1.42,1.42 0 1 1 1.354,-4.271 L0.18,0 Z" transform="rotate(-153)"/></g><g fill="#000"><rect x="437.10" y="582.50" width="2.6" height="5.0"/><rect x="442.46" y="582.50" width="2.6" height="5.0"/><rect x="447.81" y="582.50" width="2.6" height="5.0"/><rect x="453.17" y="582.50" width="2.6" height="5.0"/><rect x="458.52" y="582.50" width="2.6" height="5.0"/><rect x="463.88" y="582.50" width="2.6" height="5.0"/><rect x="469.23" y="582.50" width="2.6" height="5.0"/><rect x="474.59" y="582.50" width="2.6" height="5.0"/><rect x="479.94" y="582.50" width="2.6" height="5.0"/><rect x="485.30" y="582.50" width="2.6" height="5.0"/><rect x="434.60" y="586.00" width="5.2" height="2.6"/><rect x="434.60" y="591.60" width="5.2" height="2.6"/><rect x="434.60" y="597.10" width="5.2" height="2.6"/><rect x="485.40" y="586.00" width="5.2" height="2.6"/><rect x="485.40" y="591.60" width="5.2" height="2.6"/><rect x="485.40" y="597.10" width="5.2" height="2.6"/></g><g transform="translate(462.60,571.70)"><path d="M-0.18,0 L-1.358,-4.434 A1.42,1.42 0 1 1 1.358,-4.434 L0.18,0 Z" transform="rotate(0)"/><path d="M-0.18,0 L-1.325,-3.440 A1.42,1.42 0 1 1 1.325,-3.440 L0.18,0 Z" transform="rotate(70)"/><path d="M-0.18,0 L-1.325,-3.440 A1.42,1.42 0 1 1 1.325,-3.440 L0.18,0 Z" transform="rotate(-70)"/><path d="M-0.18,0 L-1.354,-4.271 A1.42,1.42 0 1 1 1.354,-4.271 L0.18,0 Z" transform="rotate(153)"/><path d="M-0.18,0 L-1.354,-4.271 A1.42,1.42 0 1 1 1.354,-4.271 L0.18,0 Z" transform="rotate(-153)"/></g><g fill="#000"><rect x="627.20" y="582.50" width="2.6" height="5.0"/><rect x="632.81" y="582.50" width="2.6" height="5.0"/><rect x="638.42" y="582.50" width="2.6" height="5.0"/><rect x="644.03" y="582.50" width="2.6" height="5.0"/><rect x="649.64" y="582.50" width="2.6" height="5.0"/><rect x="655.26" y="582.50" width="2.6" height="5.0"/><rect x="660.87" y="582.50" width="2.6" height="5.0"/><rect x="666.48" y="582.50" width="2.6" height="5.0"/><rect x="672.09" y="582.50" width="2.6" height="5.0"/><rect x="677.70" y="582.50" width="2.6" height="5.0"/><rect x="624.70" y="586.00" width="5.2" height="2.6"/><rect x="624.70" y="591.60" width="5.2" height="2.6"/><rect x="624.70" y="597.10" width="5.2" height="2.6"/><rect x="677.80" y="586.00" width="5.2" height="2.6"/><rect x="677.80" y="591.60" width="5.2" height="2.6"/><rect x="677.80" y="597.10" width="5.2" height="2.6"/></g><g transform="translate(641.45,571.70)"><path d="M-0.18,0 L-1.358,-4.434 A1.42,1.42 0 1 1 1.358,-4.434 L0.18,0 Z" transform="rotate(0)"/><path d="M-0.18,0 L-1.325,-3.440 A1.42,1.42 0 1 1 1.325,-3.440 L0.18,0 Z" transform="rotate(70)"/><path d="M-0.18,0 L-1.325,-3.440 A1.42,1.42 0 1 1 1.325,-3.440 L0.18,0 Z" transform="rotate(-70)"/><path d="M-0.18,0 L-1.354,-4.271 A1.42,1.42 0 1 1 1.354,-4.271 L0.18,0 Z" transform="rotate(153)"/><path d="M-0.18,0 L-1.354,-4.271 A1.42,1.42 0 1 1 1.354,-4.271 L0.18,0 Z" transform="rotate(-153)"/></g><g transform="translate(653.85,571.70)"><path d="M-0.18,0 L-1.358,-4.434 A1.42,1.42 0 1 1 1.358,-4.434 L0.18,0 Z" transform="rotate(0)"/><path d="M-0.18,0 L-1.325,-3.440 A1.42,1.42 0 1 1 1.325,-3.440 L0.18,0 Z" transform="rotate(70)"/><path d="M-0.18,0 L-1.325,-3.440 A1.42,1.42 0 1 1 1.325,-3.440 L0.18,0 Z" transform="rotate(-70)"/><path d="M-0.18,0 L-1.354,-4.271 A1.42,1.42 0 1 1 1.354,-4.271 L0.18,0 Z" transform="rotate(153)"/><path d="M-0.18,0 L-1.354,-4.271 A1.42,1.42 0 1 1 1.354,-4.271 L0.18,0 Z" transform="rotate(-153)"/></g><g transform="translate(666.25,571.70)"><path d="M-0.18,0 L-1.358,-4.434 A1.42,1.42 0 1 1 1.358,-4.434 L0.18,0 Z" transform="rotate(0)"/><path d="M-0.18,0 L-1.325,-3.440 A1.42,1.42 0 1 1 1.325,-3.440 L0.18,0 Z" transform="rotate(70)"/><path d="M-0.18,0 L-1.325,-3.440 A1.42,1.42 0 1 1 1.325,-3.440 L0.18,0 Z" transform="rotate(-70)"/><path d="M-0.18,0 L-1.354,-4.271 A1.42,1.42 0 1 1 1.354,-4.271 L0.18,0 Z" transform="rotate(153)"/><path d="M-0.18,0 L-1.354,-4.271 A1.42,1.42 0 1 1 1.354,-4.271 L0.18,0 Z" transform="rotate(-153)"/></g><g fill="#000"><rect x="756.40" y="582.50" width="2.6" height="5.0"/><rect x="762.01" y="582.50" width="2.6" height="5.0"/><rect x="767.62" y="582.50" width="2.6" height="5.0"/><rect x="773.23" y="582.50" width="2.6" height="5.0"/><rect x="778.84" y="582.50" width="2.6" height="5.0"/><rect x="784.46" y="582.50" width="2.6" height="5.0"/><rect x="790.07" y="582.50" width="2.6" height="5.0"/><rect x="795.68" y="582.50" width="2.6" height="5.0"/><rect x="801.29" y="582.50" width="2.6" height="5.0"/><rect x="806.90" y="582.50" width="2.6" height="5.0"/><rect x="753.90" y="586.00" width="5.2" height="2.6"/><rect x="753.90" y="591.60" width="5.2" height="2.6"/><rect x="753.90" y="597.10" width="5.2" height="2.6"/><rect x="807.00" y="586.00" width="5.2" height="2.6"/><rect x="807.00" y="591.60" width="5.2" height="2.6"/><rect x="807.00" y="597.10" width="5.2" height="2.6"/></g><g transform="translate(770.65,571.70)"><path d="M-0.18,0 L-1.358,-4.434 A1.42,1.42 0 1 1 1.358,-4.434 L0.18,0 Z" transform="rotate(0)"/><path d="M-0.18,0 L-1.325,-3.440 A1.42,1.42 0 1 1 1.325,-3.440 L0.18,0 Z" transform="rotate(70)"/><path d="M-0.18,0 L-1.325,-3.440 A1.42,1.42 0 1 1 1.325,-3.440 L0.18,0 Z" transform="rotate(-70)"/><path d="M-0.18,0 L-1.354,-4.271 A1.42,1.42 0 1 1 1.354,-4.271 L0.18,0 Z" transform="rotate(153)"/><path d="M-0.18,0 L-1.354,-4.271 A1.42,1.42 0 1 1 1.354,-4.271 L0.18,0 Z" transform="rotate(-153)"/></g><g transform="translate(783.05,571.70)"><path d="M-0.18,0 L-1.358,-4.434 A1.42,1.42 0 1 1 1.358,-4.434 L0.18,0 Z" transform="rotate(0)"/><path d="M-0.18,0 L-1.325,-3.440 A1.42,1.42 0 1 1 1.325,-3.440 L0.18,0 Z" transform="rotate(70)"/><path d="M-0.18,0 L-1.325,-3.440 A1.42,1.42 0 1 1 1.325,-3.440 L0.18,0 Z" transform="rotate(-70)"/><path d="M-0.18,0 L-1.354,-4.271 A1.42,1.42 0 1 1 1.354,-4.271 L0.18,0 Z" transform="rotate(153)"/><path d="M-0.18,0 L-1.354,-4.271 A1.42,1.42 0 1 1 1.354,-4.271 L0.18,0 Z" transform="rotate(-153)"/></g><g transform="translate(795.45,571.70)"><path d="M-0.18,0 L-1.358,-4.434 A1.42,1.42 0 1 1 1.358,-4.434 L0.18,0 Z" transform="rotate(0)"/><path d="M-0.18,0 L-1.325,-3.440 A1.42,1.42 0 1 1 1.325,-3.440 L0.18,0 Z" transform="rotate(70)"/><path d="M-0.18,0 L-1.325,-3.440 A1.42,1.42 0 1 1 1.325,-3.440 L0.18,0 Z" transform="rotate(-70)"/><path d="M-0.18,0 L-1.354,-4.271 A1.42,1.42 0 1 1 1.354,-4.271 L0.18,0 Z" transform="rotate(153)"/><path d="M-0.18,0 L-1.354,-4.271 A1.42,1.42 0 1 1 1.354,-4.271 L0.18,0 Z" transform="rotate(-153)"/></g><g fill="#000"><rect x="891.80" y="582.50" width="2.6" height="5.0"/><rect x="897.19" y="582.50" width="2.6" height="5.0"/><rect x="902.58" y="582.50" width="2.6" height="5.0"/><rect x="907.97" y="582.50" width="2.6" height="5.0"/><rect x="913.36" y="582.50" width="2.6" height="5.0"/><rect x="918.74" y="582.50" width="2.6" height="5.0"/><rect x="924.13" y="582.50" width="2.6" height="5.0"/><rect x="929.52" y="582.50" width="2.6" height="5.0"/><rect x="934.91" y="582.50" width="2.6" height="5.0"/><rect x="940.30" y="582.50" width="2.6" height="5.0"/><rect x="889.30" y="586.00" width="5.2" height="2.6"/><rect x="889.30" y="591.60" width="5.2" height="2.6"/><rect x="889.30" y="597.10" width="5.2" height="2.6"/><rect x="940.40" y="586.00" width="5.2" height="2.6"/><rect x="940.40" y="591.60" width="5.2" height="2.6"/><rect x="940.40" y="597.10" width="5.2" height="2.6"/></g><g transform="translate(911.25,571.70)"><path d="M-0.18,0 L-1.358,-4.434 A1.42,1.42 0 1 1 1.358,-4.434 L0.18,0 Z" transform="rotate(0)"/><path d="M-0.18,0 L-1.325,-3.440 A1.42,1.42 0 1 1 1.325,-3.440 L0.18,0 Z" transform="rotate(70)"/><path d="M-0.18,0 L-1.325,-3.440 A1.42,1.42 0 1 1 1.325,-3.440 L0.18,0 Z" transform="rotate(-70)"/><path d="M-0.18,0 L-1.354,-4.271 A1.42,1.42 0 1 1 1.354,-4.271 L0.18,0 Z" transform="rotate(153)"/><path d="M-0.18,0 L-1.354,-4.271 A1.42,1.42 0 1 1 1.354,-4.271 L0.18,0 Z" transform="rotate(-153)"/></g><g transform="translate(923.65,571.70)"><path d="M-0.18,0 L-1.358,-4.434 A1.42,1.42 0 1 1 1.358,-4.434 L0.18,0 Z" transform="rotate(0)"/><path d="M-0.18,0 L-1.325,-3.440 A1.42,1.42 0 1 1 1.325,-3.440 L0.18,0 Z" transform="rotate(70)"/><path d="M-0.18,0 L-1.325,-3.440 A1.42,1.42 0 1 1 1.325,-3.440 L0.18,0 Z" transform="rotate(-70)"/><path d="M-0.18,0 L-1.354,-4.271 A1.42,1.42 0 1 1 1.354,-4.271 L0.18,0 Z" transform="rotate(153)"/><path d="M-0.18,0 L-1.354,-4.271 A1.42,1.42 0 1 1 1.354,-4.271 L0.18,0 Z" transform="rotate(-153)"/></g><g fill="#000"><rect x="1072.00" y="582.50" width="2.6" height="5.0"/><rect x="1077.40" y="582.50" width="2.6" height="5.0"/><rect x="1082.80" y="582.50" width="2.6" height="5.0"/><rect x="1088.20" y="582.50" width="2.6" height="5.0"/><rect x="1093.60" y="582.50" width="2.6" height="5.0"/><rect x="1099.00" y="582.50" width="2.6" height="5.0"/><rect x="1104.40" y="582.50" width="2.6" height="5.0"/><rect x="1109.80" y="582.50" width="2.6" height="5.0"/><rect x="1115.20" y="582.50" width="2.6" height="5.0"/><rect x="1120.60" y="582.50" width="2.6" height="5.0"/><rect x="1069.50" y="586.00" width="5.2" height="2.6"/><rect x="1069.50" y="591.60" width="5.2" height="2.6"/><rect x="1069.50" y="597.10" width="5.2" height="2.6"/><rect x="1120.70" y="586.00" width="5.2" height="2.6"/><rect x="1120.70" y="591.60" width="5.2" height="2.6"/><rect x="1120.70" y="597.10" width="5.2" height="2.6"/></g><g transform="translate(1091.50,571.70)"><path d="M-0.18,0 L-1.358,-4.434 A1.42,1.42 0 1 1 1.358,-4.434 L0.18,0 Z" transform="rotate(0)"/><path d="M-0.18,0 L-1.325,-3.440 A1.42,1.42 0 1 1 1.325,-3.440 L0.18,0 Z" transform="rotate(70)"/><path d="M-0.18,0 L-1.325,-3.440 A1.42,1.42 0 1 1 1.325,-3.440 L0.18,0 Z" transform="rotate(-70)"/><path d="M-0.18,0 L-1.354,-4.271 A1.42,1.42 0 1 1 1.354,-4.271 L0.18,0 Z" transform="rotate(153)"/><path d="M-0.18,0 L-1.354,-4.271 A1.42,1.42 0 1 1 1.354,-4.271 L0.18,0 Z" transform="rotate(-153)"/></g><g transform="translate(1103.90,571.70)"><path d="M-0.18,0 L-1.358,-4.434 A1.42,1.42 0 1 1 1.358,-4.434 L0.18,0 Z" transform="rotate(0)"/><path d="M-0.18,0 L-1.325,-3.440 A1.42,1.42 0 1 1 1.325,-3.440 L0.18,0 Z" transform="rotate(70)"/><path d="M-0.18,0 L-1.325,-3.440 A1.42,1.42 0 1 1 1.325,-3.440 L0.18,0 Z" transform="rotate(-70)"/><path d="M-0.18,0 L-1.354,-4.271 A1.42,1.42 0 1 1 1.354,-4.271 L0.18,0 Z" transform="rotate(153)"/><path d="M-0.18,0 L-1.354,-4.271 A1.42,1.42 0 1 1 1.354,-4.271 L0.18,0 Z" transform="rotate(-153)"/></g><text x="1.4" y="22.8" font-size="30" font-weight="bold" fill="#000" text-anchor="start" >A</text><text x="1.2" y="557.3" font-size="30" font-weight="bold" fill="#000" text-anchor="start" >B</text><text x="314.7" y="31.6" font-size="37.6" font-weight="bold" fill="#231F20" text-anchor="middle" >Low load</text><text x="778.5" y="31.9" font-size="37.6" font-weight="bold" fill="#231F20" text-anchor="middle" >Medium load</text><text x="1235.1" y="31.7" font-size="37.6" font-weight="bold" fill="#231F20" text-anchor="middle" >High load</text><text x="0" y="0" font-size="30" font-weight="bold" fill="#231F20" text-anchor="end" transform="translate(113.5,105.00) scale(1,1.03)">1000</text><text x="0" y="0" font-size="30" font-weight="bold" fill="#231F20" text-anchor="end" transform="translate(113.5,201.85) scale(1,1.03)">800</text><text x="0" y="0" font-size="30" font-weight="bold" fill="#231F20" text-anchor="end" transform="translate(113.5,298.70) scale(1,1.03)">600</text><text x="0" y="0" font-size="30" font-weight="bold" fill="#231F20" text-anchor="end" transform="translate(113.5,395.55) scale(1,1.03)">400</text><text x="0" y="0" font-size="30" font-weight="bold" fill="#231F20" text-anchor="end" transform="translate(113.5,492.40) scale(1,1.03)">200</text><text x="0" y="0" font-size="30" font-weight="bold" fill="#231F20" text-anchor="end" transform="translate(113.5,623.30) scale(1,1.03)">1.00</text><text x="0" y="0" font-size="30" font-weight="bold" fill="#231F20" text-anchor="end" transform="translate(113.5,720.15) scale(1,1.03)">0.95</text><text x="0" y="0" font-size="30" font-weight="bold" fill="#231F20" text-anchor="end" transform="translate(113.5,817.00) scale(1,1.03)">0.90</text><text x="0" y="0" font-size="30" font-weight="bold" fill="#231F20" text-anchor="end" transform="translate(113.5,913.85) scale(1,1.03)">0.85</text><text x="0" y="0" font-size="30" font-weight="bold" fill="#231F20" text-anchor="end" transform="translate(113.5,1010.70) scale(1,1.03)">0.80</text><text x="0" y="0" font-size="32.4" font-weight="bold" fill="#231F20" text-anchor="middle" transform="translate(27,280.5) rotate(-90)">Response time (ms)</text><text x="0" y="0" font-size="32.4" font-weight="bold" fill="#231F20" text-anchor="middle" transform="translate(27,809.6) rotate(-90)">Accuracy (%)</text><text x="192.95" y="518.4" font-size="29.5" font-weight="bold" fill="#231F20" text-anchor="middle" >A</text><text x="327.75" y="518.4" font-size="29.5" font-weight="bold" fill="#231F20" text-anchor="middle" >V</text><text x="462.65" y="518.4" font-size="29.5" font-weight="bold" fill="#231F20" text-anchor="middle" >AV</text><text x="653.40" y="518.4" font-size="29.5" font-weight="bold" fill="#231F20" text-anchor="middle" >A</text><text x="788.25" y="518.4" font-size="29.5" font-weight="bold" fill="#231F20" text-anchor="middle" >V</text><text x="923.15" y="518.4" font-size="29.5" font-weight="bold" fill="#231F20" text-anchor="middle" >AV</text><text x="1110.05" y="518.4" font-size="29.5" font-weight="bold" fill="#231F20" text-anchor="middle" >A</text><text x="1245.00" y="518.4" font-size="29.5" font-weight="bold" fill="#231F20" text-anchor="middle" >V</text><text x="1379.75" y="518.4" font-size="29.5" font-weight="bold" fill="#231F20" text-anchor="middle" >AV</text><text x="192.95" y="1036.7" font-size="29.5" font-weight="bold" fill="#231F20" text-anchor="middle" >A</text><text x="327.75" y="1036.7" font-size="29.5" font-weight="bold" fill="#231F20" text-anchor="middle" >V</text><text x="462.65" y="1036.7" font-size="29.5" font-weight="bold" fill="#231F20" text-anchor="middle" >AV</text><text x="647.80" y="1036.7" font-size="29.5" font-weight="bold" fill="#231F20" text-anchor="middle" >A</text><text x="782.85" y="1036.7" font-size="29.5" font-weight="bold" fill="#231F20" text-anchor="middle" >V</text><text x="917.75" y="1036.7" font-size="29.5" font-weight="bold" fill="#231F20" text-anchor="middle" >AV</text><text x="1104.55" y="1036.7" font-size="29.5" font-weight="bold" fill="#231F20" text-anchor="middle" >A</text><text x="1239.50" y="1036.7" font-size="29.5" font-weight="bold" fill="#231F20" text-anchor="middle" >V</text><text x="1374.35" y="1036.7" font-size="29.5" font-weight="bold" fill="#231F20" text-anchor="middle" >AV</text><rect x="340.25" y="82.25" width="181.3" height="94" fill="#fff" stroke="#808285" stroke-width="1.7"/><circle cx="354.3" cy="111.6" r="4.15" fill="#990000"/><circle cx="354.3" cy="150.1" r="4.15" fill="#0000FF"/><text x="379.5" y="123.4" font-size="32.5" font-weight="bold" fill="#231F20" text-anchor="start" >Older</text><text x="378.5" y="161.5" font-size="32.5" font-weight="bold" fill="#231F20" text-anchor="start" >Younger</text>
</svg></body></html>
